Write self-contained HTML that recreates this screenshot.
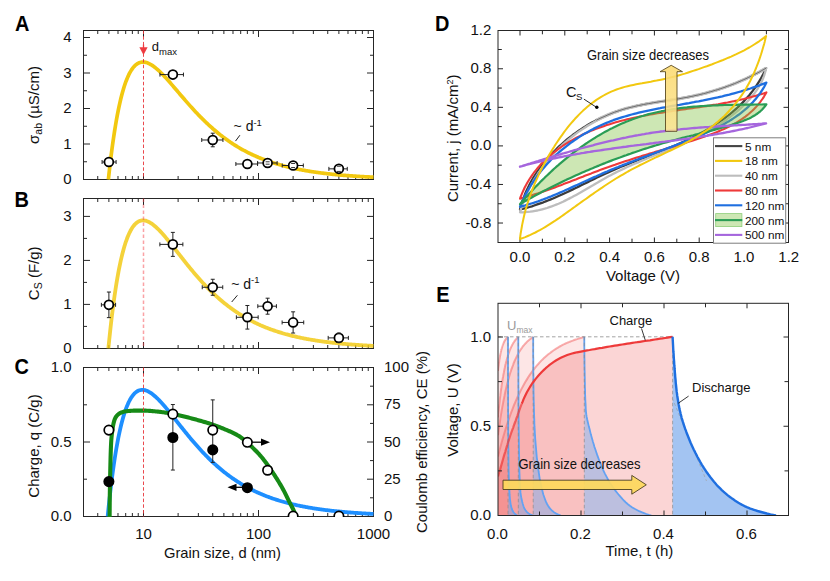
<!DOCTYPE html>
<html><head><meta charset="utf-8"><title>Figure</title>
<style>html,body{margin:0;padding:0;background:#fff}svg{display:block}</style></head>
<body><svg width="830" height="581" viewBox="0 0 830 581">
<rect width="830" height="581" fill="#fff"/>
<clipPath id="ca"><rect x="83.0" y="30.5" width="291.0" height="149.6"/></clipPath>
<rect x="83.5" y="30.5" width="290.0" height="149.0" fill="none" stroke="#262626" stroke-width="1"/>
<path d="M143.50 179.5v-6.5M143.50 30.5v6.5M258.50 179.5v-6.5M258.50 30.5v6.5" stroke="#262626" stroke-width="1" fill="none"/>
<path d="M97.74 179.5v-3.5M97.74 30.5v3.5M108.88 179.5v-3.5M108.88 30.5v3.5M117.99 179.5v-3.5M117.99 30.5v3.5M125.69 179.5v-3.5M125.69 30.5v3.5M132.36 179.5v-3.5M132.36 30.5v3.5M138.24 179.5v-3.5M138.24 30.5v3.5M178.12 179.5v-3.5M178.12 30.5v3.5M198.37 179.5v-3.5M198.37 30.5v3.5M212.74 179.5v-3.5M212.74 30.5v3.5M223.88 179.5v-3.5M223.88 30.5v3.5M232.99 179.5v-3.5M232.99 30.5v3.5M240.69 179.5v-3.5M240.69 30.5v3.5M247.36 179.5v-3.5M247.36 30.5v3.5M253.24 179.5v-3.5M253.24 30.5v3.5M293.12 179.5v-3.5M293.12 30.5v3.5M313.37 179.5v-3.5M313.37 30.5v3.5M327.74 179.5v-3.5M327.74 30.5v3.5M338.88 179.5v-3.5M338.88 30.5v3.5M347.99 179.5v-3.5M347.99 30.5v3.5M355.69 179.5v-3.5M355.69 30.5v3.5M362.36 179.5v-3.5M362.36 30.5v3.5M368.24 179.5v-3.5M368.24 30.5v3.5" stroke="#262626" stroke-width="1" fill="none"/>
<path d="M83.5 144.00h6.5M373.5 144.00h-6.5M83.5 108.50h6.5M373.5 108.50h-6.5M83.5 73.00h6.5M373.5 73.00h-6.5M83.5 37.50h6.5M373.5 37.50h-6.5" stroke="#262626" stroke-width="1" fill="none"/>
<path d="M83.5 161.75h3.5M373.5 161.75h-3.5M83.5 126.25h3.5M373.5 126.25h-3.5M83.5 90.75h3.5M373.5 90.75h-3.5M83.5 55.25h3.5M373.5 55.25h-3.5" stroke="#262626" stroke-width="1" fill="none"/>
<path d="M108.38 179.50 L109.26 171.41 L110.15 163.73 L111.03 156.47 L111.91 149.59 L112.80 143.09 L113.68 136.95 L114.57 131.15 L115.45 125.68 L116.33 120.53 L117.22 115.67 L118.10 111.11 L118.98 106.83 L119.87 102.81 L120.75 99.04 L121.64 95.52 L122.52 92.23 L123.40 89.17 L124.29 86.32 L125.17 83.67 L126.05 81.22 L126.94 78.96 L127.82 76.87 L128.71 74.95 L129.59 73.20 L130.47 71.60 L131.36 70.15 L132.24 68.85 L133.12 67.67 L134.01 66.63 L134.89 65.71 L135.78 64.91 L136.66 64.21 L137.54 63.63 L138.43 63.14 L139.31 62.75 L140.19 62.45 L141.08 62.24 L141.96 62.11 L142.85 62.06 L143.73 62.09 L144.61 62.18 L145.50 62.34 L146.38 62.57 L147.26 62.85 L148.15 63.19 L149.03 63.58 L149.92 64.03 L150.80 64.52 L151.68 65.05 L152.57 65.63 L153.45 66.25 L154.33 66.91 L155.22 67.59 L156.10 68.32 L156.99 69.07 L157.87 69.85 L158.75 70.66 L159.64 71.49 L160.52 72.35 L161.40 73.22 L162.29 74.12 L163.17 75.03 L164.05 75.96 L164.94 76.91 L165.82 77.86 L166.71 78.84 L167.59 79.82 L168.47 80.81 L169.36 81.81 L170.24 82.82 L171.12 83.84 L172.01 84.86 L172.89 85.89 L173.78 86.92 L174.66 87.95 L175.54 88.99 L176.43 90.02 L177.31 91.06 L178.19 92.10 L179.08 93.14 L179.96 94.18 L180.85 95.21 L181.73 96.25 L182.61 97.28 L183.50 98.31 L184.38 99.33 L185.26 100.35 L186.15 101.37 L187.03 102.38 L187.92 103.38 L188.80 104.38 L189.68 105.38 L190.57 106.37 L191.45 107.35 L192.33 108.32 L193.22 109.29 L194.10 110.25 L194.99 111.20 L195.87 112.15 L196.75 113.09 L197.64 114.02 L198.52 114.94 L199.40 115.85 L200.29 116.76 L201.17 117.65 L202.06 118.54 L202.94 119.42 L203.82 120.29 L204.71 121.15 L205.59 122.00 L206.47 122.85 L207.36 123.68 L208.24 124.51 L209.13 125.32 L210.01 126.13 L210.89 126.93 L211.78 127.72 L212.66 128.50 L213.54 129.27 L214.43 130.03 L215.31 130.78 L216.20 131.52 L217.08 132.25 L217.96 132.98 L218.85 133.69 L219.73 134.40 L220.61 135.10 L221.50 135.79 L222.38 136.47 L223.27 137.14 L224.15 137.80 L225.03 138.45 L225.92 139.10 L226.80 139.73 L227.68 140.36 L228.57 140.98 L229.45 141.59 L230.33 142.19 L231.22 142.78 L232.10 143.37 L232.99 143.94 L233.87 144.51 L234.75 145.07 L235.64 145.62 L236.52 146.17 L237.40 146.71 L238.29 147.23 L239.17 147.76 L240.06 148.27 L240.94 148.78 L241.82 149.27 L242.71 149.77 L243.59 150.25 L244.47 150.73 L245.36 151.20 L246.24 151.66 L247.13 152.12 L248.01 152.56 L248.89 153.01 L249.78 153.44 L250.66 153.87 L251.54 154.29 L252.43 154.71 L253.31 155.12 L254.20 155.52 L255.08 155.92 L255.96 156.31 L256.85 156.69 L257.73 157.07 L258.61 157.45 L259.50 157.81 L260.38 158.17 L261.27 158.53 L262.15 158.88 L263.03 159.22 L263.92 159.56 L264.80 159.90 L265.68 160.23 L266.57 160.55 L267.45 160.87 L268.34 161.18 L269.22 161.49 L270.10 161.79 L270.99 162.09 L271.87 162.38 L272.75 162.67 L273.64 162.96 L274.52 163.23 L275.41 163.51 L276.29 163.78 L277.17 164.05 L278.06 164.31 L278.94 164.56 L279.82 164.82 L280.71 165.07 L281.59 165.31 L282.48 165.55 L283.36 165.79 L284.24 166.02 L285.13 166.25 L286.01 166.48 L286.89 166.70 L287.78 166.92 L288.66 167.13 L289.55 167.34 L290.43 167.55 L291.31 167.76 L292.20 167.96 L293.08 168.15 L293.96 168.35 L294.85 168.54 L295.73 168.73 L296.62 168.91 L297.50 169.09 L298.38 169.27 L299.27 169.45 L300.15 169.62 L301.03 169.79 L301.92 169.95 L302.80 170.12 L303.68 170.28 L304.57 170.44 L305.45 170.59 L306.34 170.75 L307.22 170.90 L308.10 171.05 L308.99 171.19 L309.87 171.33 L310.75 171.47 L311.64 171.61 L312.52 171.75 L313.41 171.88 L314.29 172.01 L315.17 172.14 L316.06 172.27 L316.94 172.39 L317.82 172.52 L318.71 172.64 L319.59 172.76 L320.48 172.87 L321.36 172.99 L322.24 173.10 L323.13 173.21 L324.01 173.32 L324.89 173.43 L325.78 173.53 L326.66 173.64 L327.55 173.74 L328.43 173.84 L329.31 173.94 L330.20 174.03 L331.08 174.13 L331.96 174.22 L332.85 174.31 L333.73 174.40 L334.62 174.49 L335.50 174.58 L336.38 174.66 L337.27 174.75 L338.15 174.83 L339.03 174.91 L339.92 174.99 L340.80 175.07 L341.69 175.14 L342.57 175.22 L343.45 175.29 L344.34 175.37 L345.22 175.44 L346.10 175.51 L346.99 175.58 L347.87 175.65 L348.76 175.71 L349.64 175.78 L350.52 175.85 L351.41 175.91 L352.29 175.97 L353.17 176.03 L354.06 176.09 L354.94 176.15 L355.83 176.21 L356.71 176.27 L357.59 176.32 L358.48 176.38 L359.36 176.43 L360.24 176.49 L361.13 176.54 L362.01 176.59 L362.90 176.64 L363.78 176.69 L364.66 176.74 L365.55 176.79 L366.43 176.84 L367.31 176.88 L368.20 176.93 L369.08 176.97 L369.97 177.02 L370.85 177.06 L371.73 177.10 L372.62 177.15 L373.50 177.19" fill="none" stroke="#f2c80f" stroke-width="3.7" stroke-linejoin="round" clip-path="url(#ca)"/>
<path d="M143.5 30.5V179.5" stroke="#e8343a" stroke-width="0.9" stroke-dasharray="3.5 2.2" fill="none"/>
<text x="71.6" y="184" font-size="15" text-anchor="end" font-weight="normal" fill="#111" font-family="Liberation Sans, sans-serif" >0</text>
<text x="71.6" y="149" font-size="15" text-anchor="end" font-weight="normal" fill="#111" font-family="Liberation Sans, sans-serif" >1</text>
<text x="71.6" y="113" font-size="15" text-anchor="end" font-weight="normal" fill="#111" font-family="Liberation Sans, sans-serif" >2</text>
<text x="71.6" y="78" font-size="15" text-anchor="end" font-weight="normal" fill="#111" font-family="Liberation Sans, sans-serif" >3</text>
<text x="71.6" y="42" font-size="15" text-anchor="end" font-weight="normal" fill="#111" font-family="Liberation Sans, sans-serif" >4</text>
<path d="M102.08 162.00H116.08M102.08 160.00v4.0M116.08 160.00v4.0" stroke="#222" stroke-width="1" fill="none"/>
<circle cx="108.88" cy="162.00" r="4.45" fill="#fff" stroke="#000" stroke-width="1.75"/>
<path d="M159.96 74.60H183.46M159.96 72.60v4.0M183.46 72.60v4.0" stroke="#222" stroke-width="1" fill="none"/>
<circle cx="172.86" cy="74.60" r="4.45" fill="#fff" stroke="#000" stroke-width="1.75"/>
<path d="M201.74 139.99H222.94M201.74 137.99v4.0M222.94 137.99v4.0M212.74 133.19V146.79M210.74 133.19h4.0M210.74 146.79h4.0" stroke="#222" stroke-width="1" fill="none"/>
<circle cx="212.74" cy="139.99" r="4.45" fill="#fff" stroke="#000" stroke-width="1.75"/>
<path d="M235.86 163.99H257.56M235.86 161.99v4.0M257.56 161.99v4.0" stroke="#222" stroke-width="1" fill="none"/>
<circle cx="247.36" cy="163.99" r="4.45" fill="#fff" stroke="#000" stroke-width="1.75"/>
<path d="M257.61 162.99H277.11M257.61 160.99v4.0M277.11 160.99v4.0" stroke="#222" stroke-width="1" fill="none"/>
<circle cx="267.61" cy="162.99" r="4.45" fill="#fff" stroke="#000" stroke-width="1.75"/>
<path d="M282.22 165.51H303.32M282.22 163.51v4.0M303.32 163.51v4.0" stroke="#222" stroke-width="1" fill="none"/>
<circle cx="293.12" cy="165.51" r="4.45" fill="#fff" stroke="#000" stroke-width="1.75"/>
<path d="M328.88 168.85H347.28M328.88 166.85v4.0M347.28 166.85v4.0" stroke="#222" stroke-width="1" fill="none"/>
<circle cx="338.88" cy="168.85" r="4.45" fill="#fff" stroke="#000" stroke-width="1.75"/>
<path d="M265.61 161.79h4.0M265.61 164.19h4.0" stroke="#222" stroke-width="0.9" fill="none"/>
<path d="M291.12 163.51h4.0M291.12 167.51h4.0" stroke="#222" stroke-width="0.9" fill="none"/>
<path d="M336.88 166.25h4.0M336.88 171.45h4.0" stroke="#222" stroke-width="0.9" fill="none"/>
<path d="M143.5 44.4V49" stroke="#ee3b40" stroke-width="1.3"/><path d="M139.35 47.3h8.3L143.5 55z" fill="#ee3b40"/>
<text x="151.8" y="50.5" font-size="13" text-anchor="start" font-weight="normal" fill="#111" font-family="Liberation Sans, sans-serif" >d<tspan font-size="9.5" dy="4">max</tspan></text>
<text x="233.6" y="131" font-size="14" text-anchor="start" font-weight="normal" fill="#111" font-family="Liberation Sans, sans-serif" >~ d<tspan font-size="9.5" dy="-5.5">-1</tspan></text>
<path d="M235.5 141.1L239.9 135.2" stroke="#222" stroke-width="1"/>
<text transform="translate(14.9,30.6) scale(0.92,1)" font-size="21.7" font-weight="bold" fill="#000" font-family="Liberation Sans, sans-serif">A</text>
<text transform="translate(39.4,105) rotate(-90)" font-size="15" text-anchor="middle" fill="#111" font-family="Liberation Sans, sans-serif">σ<tspan font-size="10.5" dy="3">ab</tspan><tspan dy="-3"> (µS/cm)</tspan></text>
<clipPath id="cb"><rect x="83.0" y="198.5" width="291.0" height="150.6"/></clipPath>
<rect x="83.5" y="198.5" width="290.0" height="150.0" fill="none" stroke="#262626" stroke-width="1"/>
<path d="M143.50 348.5v-6.5M143.50 198.5v6.5M258.50 348.5v-6.5M258.50 198.5v6.5" stroke="#262626" stroke-width="1" fill="none"/>
<path d="M97.74 348.5v-3.5M97.74 198.5v3.5M108.88 348.5v-3.5M108.88 198.5v3.5M117.99 348.5v-3.5M117.99 198.5v3.5M125.69 348.5v-3.5M125.69 198.5v3.5M132.36 348.5v-3.5M132.36 198.5v3.5M138.24 348.5v-3.5M138.24 198.5v3.5M178.12 348.5v-3.5M178.12 198.5v3.5M198.37 348.5v-3.5M198.37 198.5v3.5M212.74 348.5v-3.5M212.74 198.5v3.5M223.88 348.5v-3.5M223.88 198.5v3.5M232.99 348.5v-3.5M232.99 198.5v3.5M240.69 348.5v-3.5M240.69 198.5v3.5M247.36 348.5v-3.5M247.36 198.5v3.5M253.24 348.5v-3.5M253.24 198.5v3.5M293.12 348.5v-3.5M293.12 198.5v3.5M313.37 348.5v-3.5M313.37 198.5v3.5M327.74 348.5v-3.5M327.74 198.5v3.5M338.88 348.5v-3.5M338.88 198.5v3.5M347.99 348.5v-3.5M347.99 198.5v3.5M355.69 348.5v-3.5M355.69 198.5v3.5M362.36 348.5v-3.5M362.36 198.5v3.5M368.24 348.5v-3.5M368.24 198.5v3.5" stroke="#262626" stroke-width="1" fill="none"/>
<path d="M83.5 304.40h6.5M373.5 304.40h-6.5M83.5 260.40h6.5M373.5 260.40h-6.5M83.5 216.40h6.5M373.5 216.40h-6.5" stroke="#262626" stroke-width="1" fill="none"/>
<path d="M83.5 326.40h3.5M373.5 326.40h-3.5M83.5 282.40h3.5M373.5 282.40h-3.5M83.5 238.40h3.5M373.5 238.40h-3.5" stroke="#262626" stroke-width="1" fill="none"/>
<path d="M108.38 348.40 L109.26 339.58 L110.15 331.22 L111.03 323.30 L111.91 315.80 L112.80 308.72 L113.68 302.02 L114.57 295.70 L115.45 289.74 L116.33 284.12 L117.22 278.83 L118.10 273.86 L118.98 269.19 L119.87 264.81 L120.75 260.71 L121.64 256.87 L122.52 253.29 L123.40 249.95 L124.29 246.84 L125.17 243.95 L126.05 241.28 L126.94 238.81 L127.82 236.54 L128.71 234.45 L129.59 232.54 L130.47 230.80 L131.36 229.22 L132.24 227.79 L133.12 226.52 L134.01 225.38 L134.89 224.38 L135.78 223.50 L136.66 222.74 L137.54 222.11 L138.43 221.58 L139.31 221.15 L140.19 220.83 L141.08 220.60 L141.96 220.46 L142.85 220.40 L143.73 220.43 L144.61 220.53 L145.50 220.70 L146.38 220.95 L147.26 221.26 L148.15 221.63 L149.03 222.06 L149.92 222.54 L150.80 223.08 L151.68 223.66 L152.57 224.29 L153.45 224.96 L154.33 225.68 L155.22 226.43 L156.10 227.22 L156.99 228.04 L157.87 228.89 L158.75 229.77 L159.64 230.68 L160.52 231.61 L161.40 232.56 L162.29 233.54 L163.17 234.53 L164.05 235.55 L164.94 236.58 L165.82 237.62 L166.71 238.68 L167.59 239.75 L168.47 240.83 L169.36 241.93 L170.24 243.03 L171.12 244.13 L172.01 245.25 L172.89 246.37 L173.78 247.49 L174.66 248.62 L175.54 249.75 L176.43 250.88 L177.31 252.01 L178.19 253.14 L179.08 254.27 L179.96 255.40 L180.85 256.53 L181.73 257.66 L182.61 258.78 L183.50 259.90 L184.38 261.02 L185.26 262.13 L186.15 263.24 L187.03 264.34 L187.92 265.44 L188.80 266.53 L189.68 267.61 L190.57 268.69 L191.45 269.76 L192.33 270.82 L193.22 271.87 L194.10 272.92 L194.99 273.96 L195.87 274.99 L196.75 276.01 L197.64 277.03 L198.52 278.03 L199.40 279.03 L200.29 280.01 L201.17 280.99 L202.06 281.96 L202.94 282.92 L203.82 283.86 L204.71 284.80 L205.59 285.73 L206.47 286.65 L207.36 287.56 L208.24 288.46 L209.13 289.35 L210.01 290.23 L210.89 291.10 L211.78 291.96 L212.66 292.81 L213.54 293.65 L214.43 294.48 L215.31 295.30 L216.20 296.11 L217.08 296.91 L217.96 297.69 L218.85 298.47 L219.73 299.24 L220.61 300.00 L221.50 300.75 L222.38 301.50 L223.27 302.23 L224.15 302.95 L225.03 303.66 L225.92 304.36 L226.80 305.05 L227.68 305.74 L228.57 306.41 L229.45 307.08 L230.33 307.73 L231.22 308.38 L232.10 309.02 L232.99 309.64 L233.87 310.26 L234.75 310.87 L235.64 311.48 L236.52 312.07 L237.40 312.66 L238.29 313.23 L239.17 313.80 L240.06 314.36 L240.94 314.91 L241.82 315.46 L242.71 315.99 L243.59 316.52 L244.47 317.04 L245.36 317.55 L246.24 318.06 L247.13 318.55 L248.01 319.04 L248.89 319.52 L249.78 320.00 L250.66 320.47 L251.54 320.93 L252.43 321.38 L253.31 321.83 L254.20 322.27 L255.08 322.70 L255.96 323.12 L256.85 323.54 L257.73 323.96 L258.61 324.36 L259.50 324.76 L260.38 325.16 L261.27 325.54 L262.15 325.93 L263.03 326.30 L263.92 326.67 L264.80 327.03 L265.68 327.39 L266.57 327.74 L267.45 328.09 L268.34 328.43 L269.22 328.77 L270.10 329.10 L270.99 329.42 L271.87 329.74 L272.75 330.06 L273.64 330.37 L274.52 330.67 L275.41 330.97 L276.29 331.27 L277.17 331.56 L278.06 331.84 L278.94 332.12 L279.82 332.40 L280.71 332.67 L281.59 332.94 L282.48 333.20 L283.36 333.46 L284.24 333.71 L285.13 333.96 L286.01 334.21 L286.89 334.45 L287.78 334.69 L288.66 334.92 L289.55 335.15 L290.43 335.38 L291.31 335.60 L292.20 335.82 L293.08 336.03 L293.96 336.24 L294.85 336.45 L295.73 336.66 L296.62 336.86 L297.50 337.06 L298.38 337.25 L299.27 337.44 L300.15 337.63 L301.03 337.81 L301.92 338.00 L302.80 338.17 L303.68 338.35 L304.57 338.52 L305.45 338.69 L306.34 338.86 L307.22 339.02 L308.10 339.18 L308.99 339.34 L309.87 339.50 L310.75 339.65 L311.64 339.80 L312.52 339.95 L313.41 340.10 L314.29 340.24 L315.17 340.38 L316.06 340.52 L316.94 340.66 L317.82 340.79 L318.71 340.92 L319.59 341.05 L320.48 341.18 L321.36 341.30 L322.24 341.43 L323.13 341.55 L324.01 341.66 L324.89 341.78 L325.78 341.90 L326.66 342.01 L327.55 342.12 L328.43 342.23 L329.31 342.33 L330.20 342.44 L331.08 342.54 L331.96 342.64 L332.85 342.74 L333.73 342.84 L334.62 342.94 L335.50 343.03 L336.38 343.13 L337.27 343.22 L338.15 343.31 L339.03 343.40 L339.92 343.48 L340.80 343.57 L341.69 343.65 L342.57 343.74 L343.45 343.82 L344.34 343.90 L345.22 343.97 L346.10 344.05 L346.99 344.13 L347.87 344.20 L348.76 344.27 L349.64 344.35 L350.52 344.42 L351.41 344.49 L352.29 344.55 L353.17 344.62 L354.06 344.69 L354.94 344.75 L355.83 344.81 L356.71 344.88 L357.59 344.94 L358.48 345.00 L359.36 345.06 L360.24 345.12 L361.13 345.17 L362.01 345.23 L362.90 345.29 L363.78 345.34 L364.66 345.39 L365.55 345.45 L366.43 345.50 L367.31 345.55 L368.20 345.60 L369.08 345.65 L369.97 345.69 L370.85 345.74 L371.73 345.79 L372.62 345.83 L373.50 345.88" fill="none" stroke="#f2c80f" stroke-width="3.8" stroke-linejoin="round" clip-path="url(#cb)" stroke-opacity="0.82"/>
<path d="M143.5 198.5V348.5" stroke="#f5464b" stroke-opacity="0.5" stroke-width="1.5" stroke-dasharray="3.6 2.4" fill="none"/>
<text x="71.6" y="353" font-size="15" text-anchor="end" font-weight="normal" fill="#111" font-family="Liberation Sans, sans-serif" >0</text>
<text x="71.6" y="309" font-size="15" text-anchor="end" font-weight="normal" fill="#111" font-family="Liberation Sans, sans-serif" >1</text>
<text x="71.6" y="265" font-size="15" text-anchor="end" font-weight="normal" fill="#111" font-family="Liberation Sans, sans-serif" >2</text>
<text x="71.6" y="221" font-size="15" text-anchor="end" font-weight="normal" fill="#111" font-family="Liberation Sans, sans-serif" >3</text>
<path d="M101.38 304.84H115.58M101.38 302.84v4.0M115.58 302.84v4.0M108.88 292.04V317.64M106.88 292.04h4.0M106.88 317.64h4.0" stroke="#222" stroke-width="1" fill="none"/>
<circle cx="108.88" cy="304.84" r="4.45" fill="#fff" stroke="#000" stroke-width="1.75"/>
<path d="M159.86 244.38H182.86M159.86 242.38v4.0M182.86 242.38v4.0M172.86 232.38V256.38M170.86 232.38h4.0M170.86 256.38h4.0" stroke="#222" stroke-width="1" fill="none"/>
<circle cx="172.86" cy="244.38" r="4.45" fill="#fff" stroke="#000" stroke-width="1.75"/>
<path d="M202.24 287.28H222.74M202.24 285.28v4.0M222.74 285.28v4.0M212.74 279.28V295.28M210.74 279.28h4.0M210.74 295.28h4.0" stroke="#222" stroke-width="1" fill="none"/>
<circle cx="212.74" cy="287.28" r="4.45" fill="#fff" stroke="#000" stroke-width="1.75"/>
<path d="M236.36 317.29H258.16M236.36 315.29v4.0M258.16 315.29v4.0M247.36 305.49V329.09M245.36 305.49h4.0M245.36 329.09h4.0" stroke="#222" stroke-width="1" fill="none"/>
<circle cx="247.36" cy="317.29" r="4.45" fill="#fff" stroke="#000" stroke-width="1.75"/>
<path d="M257.81 306.20H276.41M257.81 304.20v4.0M276.41 304.20v4.0M267.61 298.20V314.20M265.61 298.20h4.0M265.61 314.20h4.0" stroke="#222" stroke-width="1" fill="none"/>
<circle cx="267.61" cy="306.20" r="4.45" fill="#fff" stroke="#000" stroke-width="1.75"/>
<path d="M282.12 322.44H303.72M282.12 320.44v4.0M303.72 320.44v4.0M293.12 311.84V333.04M291.12 311.84h4.0M291.12 333.04h4.0" stroke="#222" stroke-width="1" fill="none"/>
<circle cx="293.12" cy="322.44" r="4.45" fill="#fff" stroke="#000" stroke-width="1.75"/>
<path d="M328.18 337.88H348.38M328.18 335.88v4.0M348.38 335.88v4.0M338.88 333.28V342.48M336.88 333.28h4.0M336.88 342.48h4.0" stroke="#222" stroke-width="1" fill="none"/>
<circle cx="338.88" cy="337.88" r="4.45" fill="#fff" stroke="#000" stroke-width="1.75"/>
<path d="M336.88 333.28h4.0M336.88 342.48h4.0" stroke="#222" stroke-width="0.9" fill="none"/>
<text x="231.2" y="288.5" font-size="14" text-anchor="start" font-weight="normal" fill="#111" font-family="Liberation Sans, sans-serif" >~ d<tspan font-size="9.5" dy="-5.5">-1</tspan></text>
<path d="M231.7 302L237.4 295.3" stroke="#222" stroke-width="1"/>
<text transform="translate(14.6,207.2) scale(0.92,1)" font-size="21.7" font-weight="bold" fill="#000" font-family="Liberation Sans, sans-serif">B</text>
<text transform="translate(39.2,273.3) rotate(-90)" font-size="15" text-anchor="middle" fill="#111" font-family="Liberation Sans, sans-serif">C<tspan font-size="10.5" dy="3">S</tspan><tspan dy="-3"> (F/g)</tspan></text>
<clipPath id="cc"><rect x="83.0" y="367.5" width="291.0" height="149.6"/></clipPath>
<rect x="83.5" y="367.5" width="290.0" height="149.0" fill="none" stroke="#262626" stroke-width="1"/>
<path d="M143.50 516.5v-6.5M143.50 367.5v6.5M258.50 516.5v-6.5M258.50 367.5v6.5" stroke="#262626" stroke-width="1" fill="none"/>
<path d="M97.74 516.5v-3.5M97.74 367.5v3.5M108.88 516.5v-3.5M108.88 367.5v3.5M117.99 516.5v-3.5M117.99 367.5v3.5M125.69 516.5v-3.5M125.69 367.5v3.5M132.36 516.5v-3.5M132.36 367.5v3.5M138.24 516.5v-3.5M138.24 367.5v3.5M178.12 516.5v-3.5M178.12 367.5v3.5M198.37 516.5v-3.5M198.37 367.5v3.5M212.74 516.5v-3.5M212.74 367.5v3.5M223.88 516.5v-3.5M223.88 367.5v3.5M232.99 516.5v-3.5M232.99 367.5v3.5M240.69 516.5v-3.5M240.69 367.5v3.5M247.36 516.5v-3.5M247.36 367.5v3.5M253.24 516.5v-3.5M253.24 367.5v3.5M293.12 516.5v-3.5M293.12 367.5v3.5M313.37 516.5v-3.5M313.37 367.5v3.5M327.74 516.5v-3.5M327.74 367.5v3.5M338.88 516.5v-3.5M338.88 367.5v3.5M347.99 516.5v-3.5M347.99 367.5v3.5M355.69 516.5v-3.5M355.69 367.5v3.5M362.36 516.5v-3.5M362.36 367.5v3.5M368.24 516.5v-3.5M368.24 367.5v3.5" stroke="#262626" stroke-width="1" fill="none"/>
<path d="M83.5 442.00h6.5" stroke="#262626" stroke-width="1" fill="none"/>
<path d="M83.5 479.20h3.5M83.5 404.80h3.5" stroke="#262626" stroke-width="1" fill="none"/>
<path d="M373.5 479.20h-6.5M373.5 442.00h-6.5M373.5 404.80h-6.5" stroke="#262626" stroke-width="1" fill="none"/>
<path d="M373.5 497.80h-3.5M373.5 460.60h-3.5M373.5 423.40h-3.5M373.5 386.20h-3.5" stroke="#262626" stroke-width="1" fill="none"/>
<path d="M107.67 516.40 L108.55 507.66 L109.44 499.37 L110.33 491.52 L111.21 484.10 L112.10 477.08 L112.98 470.45 L113.87 464.19 L114.76 458.29 L115.64 452.72 L116.53 447.49 L117.42 442.57 L118.30 437.95 L119.19 433.62 L120.07 429.56 L120.96 425.76 L121.85 422.22 L122.73 418.92 L123.62 415.85 L124.50 413.00 L125.39 410.37 L126.28 407.93 L127.16 405.69 L128.05 403.63 L128.93 401.75 L129.82 400.03 L130.71 398.47 L131.59 397.07 L132.48 395.82 L133.37 394.70 L134.25 393.71 L135.14 392.86 L136.02 392.12 L136.91 391.49 L137.80 390.98 L138.68 390.57 L139.57 390.26 L140.45 390.04 L141.34 389.91 L142.23 389.86 L143.11 389.89 L144.00 390.00 L144.88 390.18 L145.77 390.43 L146.66 390.75 L147.54 391.12 L148.43 391.55 L149.32 392.04 L150.20 392.58 L151.09 393.16 L151.97 393.79 L152.86 394.47 L153.75 395.18 L154.63 395.93 L155.52 396.71 L156.40 397.53 L157.29 398.38 L158.18 399.26 L159.06 400.16 L159.95 401.09 L160.83 402.04 L161.72 403.01 L162.61 404.00 L163.49 405.01 L164.38 406.03 L165.27 407.07 L166.15 408.12 L167.04 409.18 L167.92 410.26 L168.81 411.34 L169.70 412.43 L170.58 413.53 L171.47 414.64 L172.35 415.75 L173.24 416.86 L174.13 417.98 L175.01 419.10 L175.90 420.22 L176.78 421.34 L177.67 422.46 L178.56 423.59 L179.44 424.71 L180.33 425.83 L181.22 426.94 L182.10 428.05 L182.99 429.16 L183.87 430.27 L184.76 431.37 L185.65 432.47 L186.53 433.56 L187.42 434.64 L188.30 435.72 L189.19 436.80 L190.08 437.86 L190.96 438.92 L191.85 439.97 L192.73 441.01 L193.62 442.05 L194.51 443.08 L195.39 444.10 L196.28 445.11 L197.16 446.11 L198.05 447.10 L198.94 448.09 L199.82 449.06 L200.71 450.03 L201.60 450.98 L202.48 451.93 L203.37 452.87 L204.25 453.80 L205.14 454.72 L206.03 455.62 L206.91 456.52 L207.80 457.41 L208.68 458.29 L209.57 459.16 L210.46 460.02 L211.34 460.87 L212.23 461.71 L213.11 462.53 L214.00 463.35 L214.89 464.16 L215.77 464.96 L216.66 465.75 L217.55 466.53 L218.43 467.30 L219.32 468.06 L220.20 468.81 L221.09 469.55 L221.98 470.28 L222.86 471.00 L223.75 471.71 L224.63 472.42 L225.52 473.11 L226.41 473.79 L227.29 474.47 L228.18 475.13 L229.06 475.79 L229.95 476.43 L230.84 477.07 L231.72 477.70 L232.61 478.32 L233.50 478.93 L234.38 479.53 L235.27 480.13 L236.15 480.71 L237.04 481.29 L237.93 481.86 L238.81 482.42 L239.70 482.97 L240.58 483.51 L241.47 484.05 L242.36 484.57 L243.24 485.09 L244.13 485.61 L245.01 486.11 L245.90 486.61 L246.79 487.10 L247.67 487.58 L248.56 488.05 L249.45 488.52 L250.33 488.98 L251.22 489.44 L252.10 489.88 L252.99 490.32 L253.88 490.75 L254.76 491.18 L255.65 491.60 L256.53 492.01 L257.42 492.42 L258.31 492.82 L259.19 493.21 L260.08 493.60 L260.96 493.98 L261.85 494.36 L262.74 494.73 L263.62 495.09 L264.51 495.45 L265.40 495.80 L266.28 496.15 L267.17 496.49 L268.05 496.82 L268.94 497.15 L269.83 497.48 L270.71 497.80 L271.60 498.11 L272.48 498.42 L273.37 498.72 L274.26 499.02 L275.14 499.32 L276.03 499.61 L276.91 499.89 L277.80 500.17 L278.69 500.45 L279.57 500.72 L280.46 500.99 L281.35 501.25 L282.23 501.51 L283.12 501.76 L284.00 502.01 L284.89 502.26 L285.78 502.50 L286.66 502.74 L287.55 502.97 L288.43 503.20 L289.32 503.42 L290.21 503.65 L291.09 503.87 L291.98 504.08 L292.86 504.29 L293.75 504.50 L294.64 504.70 L295.52 504.90 L296.41 505.10 L297.29 505.30 L298.18 505.49 L299.07 505.67 L299.95 505.86 L300.84 506.04 L301.73 506.22 L302.61 506.39 L303.50 506.57 L304.38 506.74 L305.27 506.90 L306.16 507.07 L307.04 507.23 L307.93 507.39 L308.81 507.54 L309.70 507.69 L310.59 507.84 L311.47 507.99 L312.36 508.14 L313.24 508.28 L314.13 508.42 L315.02 508.56 L315.90 508.69 L316.79 508.83 L317.68 508.96 L318.56 509.09 L319.45 509.21 L320.33 509.34 L321.22 509.46 L322.11 509.58 L322.99 509.70 L323.88 509.82 L324.76 509.93 L325.65 510.04 L326.54 510.15 L327.42 510.26 L328.31 510.37 L329.19 510.47 L330.08 510.58 L330.97 510.68 L331.85 510.78 L332.74 510.87 L333.63 510.97 L334.51 511.07 L335.40 511.16 L336.28 511.25 L337.17 511.34 L338.06 511.43 L338.94 511.51 L339.83 511.60 L340.71 511.68 L341.60 511.76 L342.49 511.85 L343.37 511.92 L344.26 512.00 L345.14 512.08 L346.03 512.15 L346.92 512.23 L347.80 512.30 L348.69 512.37 L349.58 512.44 L350.46 512.51 L351.35 512.58 L352.23 512.65 L353.12 512.71 L354.01 512.78 L354.89 512.84 L355.78 512.90 L356.66 512.96 L357.55 513.02 L358.44 513.08 L359.32 513.14 L360.21 513.20 L361.09 513.25 L361.98 513.31 L362.87 513.36 L363.75 513.42 L364.64 513.47 L365.53 513.52 L366.41 513.57 L367.30 513.62 L368.18 513.67 L369.07 513.72 L369.96 513.76 L370.84 513.81 L371.73 513.85 L372.61 513.90 L373.50 513.94" fill="none" stroke="#1e8fff" stroke-width="3.8" stroke-linejoin="round" clip-path="url(#cc)"/>
<path d="M109.63 517.89 L109.63 516.78 L109.63 515.67 L109.64 514.56 L109.64 513.45 L109.65 512.34 L109.66 511.23 L109.67 510.12 L109.67 509.01 L109.68 507.90 L109.69 506.79 L109.70 505.68 L109.71 504.57 L109.72 503.46 L109.73 502.35 L109.74 501.24 L109.75 500.13 L109.76 499.02 L109.77 497.91 L109.79 496.80 L109.80 495.69 L109.81 494.58 L109.83 493.47 L109.84 492.36 L109.86 491.25 L109.88 490.14 L109.89 489.03 L109.91 487.92 L109.93 486.81 L109.95 485.70 L109.97 484.59 L109.99 483.48 L110.01 482.37 L110.03 481.26 L110.05 480.15 L110.08 479.04 L110.10 477.93 L110.12 476.82 L110.15 475.72 L110.17 474.61 L110.20 473.50 L110.22 472.39 L110.24 471.28 L110.27 470.17 L110.29 469.06 L110.32 467.95 L110.34 466.84 L110.37 465.73 L110.40 464.62 L110.42 463.51 L110.45 462.40 L110.48 461.29 L110.50 460.18 L110.53 459.07 L110.56 457.96 L110.59 456.85 L110.63 455.74 L110.66 454.63 L110.69 453.52 L110.73 452.41 L110.77 451.30 L110.81 450.19 L110.85 449.08 L110.90 447.97 L110.94 446.86 L110.99 445.76 L111.04 444.65 L111.10 443.54 L111.15 442.43 L111.22 441.33 L111.29 440.22 L111.38 439.11 L111.47 438.00 L111.58 436.89 L111.69 435.79 L111.81 434.68 L111.94 433.58 L112.07 432.47 L112.22 431.37 L112.37 430.28 L112.52 429.18 L112.68 428.08 L112.86 426.96 L113.05 425.83 L113.27 424.70 L113.50 423.58 L113.76 422.48 L114.04 421.40 L114.35 420.36 L114.70 419.36 L115.08 418.41 L115.59 417.46 L116.23 416.50 L116.98 415.56 L117.81 414.70 L118.68 413.95 L119.56 413.34 L120.46 412.89 L121.44 412.49 L122.50 412.12 L123.60 411.81 L124.73 411.54 L125.86 411.33 L126.96 411.18 L128.06 411.06 L129.16 410.95 L130.26 410.85 L131.37 410.76 L132.49 410.69 L133.60 410.64 L134.71 410.61 L135.82 410.60 L136.93 410.60 L138.04 410.60 L139.15 410.60 L140.26 410.60 L141.37 410.60 L142.48 410.60 L143.59 410.60 L144.70 410.62 L145.81 410.65 L146.92 410.69 L148.03 410.76 L149.14 410.83 L150.25 410.91 L151.35 411.01 L152.46 411.11 L153.57 411.21 L154.67 411.31 L155.78 411.42 L156.88 411.52 L157.98 411.63 L159.09 411.75 L160.19 411.88 L161.29 412.02 L162.39 412.17 L163.49 412.33 L164.59 412.49 L165.69 412.66 L166.79 412.84 L167.88 413.02 L168.98 413.20 L170.07 413.39 L171.17 413.59 L172.26 413.78 L173.34 413.98 L174.43 414.19 L175.52 414.41 L176.60 414.64 L177.69 414.88 L178.77 415.13 L179.85 415.38 L180.93 415.64 L182.01 415.91 L183.09 416.18 L184.16 416.45 L185.24 416.73 L186.32 417.01 L187.39 417.29 L188.47 417.58 L189.54 417.86 L190.61 418.14 L191.69 418.42 L192.76 418.70 L193.83 418.99 L194.90 419.28 L195.98 419.57 L197.05 419.86 L198.12 420.16 L199.19 420.46 L200.26 420.76 L201.33 421.06 L202.39 421.37 L203.46 421.68 L204.53 422.00 L205.59 422.32 L206.65 422.65 L207.71 422.97 L208.77 423.31 L209.82 423.65 L210.88 423.99 L211.93 424.34 L212.98 424.69 L214.02 425.06 L215.07 425.44 L216.11 425.82 L217.15 426.21 L218.18 426.61 L219.22 427.02 L220.25 427.43 L221.28 427.85 L222.31 428.26 L223.34 428.68 L224.36 429.10 L225.39 429.53 L226.42 429.95 L227.44 430.38 L228.47 430.81 L229.49 431.25 L230.50 431.70 L231.52 432.16 L232.52 432.63 L233.51 433.11 L234.51 433.61 L235.50 434.12 L236.48 434.65 L237.45 435.19 L238.41 435.75 L239.35 436.33 L240.27 436.94 L241.16 437.58 L242.05 438.25 L242.92 438.94 L243.78 439.65 L244.63 440.37 L245.47 441.11 L246.31 441.84 L247.13 442.58 L247.96 443.32 L248.78 444.06 L249.60 444.81 L250.42 445.57 L251.24 446.33 L252.05 447.09 L252.85 447.86 L253.66 448.64 L254.45 449.42 L255.24 450.20 L256.02 451.00 L256.80 451.80 L257.57 452.60 L258.32 453.41 L259.07 454.23 L259.81 455.05 L260.54 455.88 L261.25 456.71 L261.96 457.56 L262.66 458.41 L263.35 459.27 L264.03 460.14 L264.71 461.02 L265.38 461.90 L266.04 462.79 L266.70 463.69 L267.35 464.59 L268.00 465.50 L268.64 466.41 L269.27 467.33 L269.90 468.25 L270.53 469.17 L271.15 470.09 L271.77 471.02 L272.39 471.95 L273.00 472.88 L273.61 473.81 L274.22 474.74 L274.82 475.67 L275.43 476.60 L276.03 477.53 L276.62 478.46 L277.22 479.40 L277.81 480.34 L278.39 481.29 L278.97 482.24 L279.54 483.19 L280.11 484.15 L280.68 485.10 L281.23 486.06 L281.79 487.03 L282.33 487.99 L282.87 488.96 L283.40 489.93 L283.92 490.91 L284.43 491.90 L284.94 492.88 L285.43 493.88 L285.92 494.87 L286.41 495.87 L286.89 496.87 L287.38 497.87 L287.86 498.87 L288.35 499.87 L288.84 500.86 L289.34 501.86 L289.85 502.85 L290.35 503.83 L290.86 504.82 L291.37 505.81 L291.88 506.79 L292.38 507.78 L292.88 508.78 L293.37 509.77 L293.85 510.77 L294.33 511.77 L294.79 512.78 L295.24 513.80 L295.68 514.81 L296.11 515.84 L296.54 516.86 L296.96 517.89" fill="none" stroke="#168a16" stroke-width="4.1" stroke-linejoin="round" clip-path="url(#cc)"/>
<path d="M143.5 367.5V516.5" stroke="#e8343a" stroke-width="0.9" stroke-dasharray="3.5 2.2" fill="none"/>
<text x="71.6" y="521" font-size="15" text-anchor="end" font-weight="normal" fill="#111" font-family="Liberation Sans, sans-serif" >0.0</text>
<text x="71.6" y="447" font-size="15" text-anchor="end" font-weight="normal" fill="#111" font-family="Liberation Sans, sans-serif" >0.5</text>
<text x="71.6" y="372" font-size="15" text-anchor="end" font-weight="normal" fill="#111" font-family="Liberation Sans, sans-serif" >1.0</text>
<text x="384" y="521" font-size="15" text-anchor="start" font-weight="normal" fill="#111" font-family="Liberation Sans, sans-serif" >0</text>
<text x="384" y="484" font-size="15" text-anchor="start" font-weight="normal" fill="#111" font-family="Liberation Sans, sans-serif" >25</text>
<text x="384" y="447" font-size="15" text-anchor="start" font-weight="normal" fill="#111" font-family="Liberation Sans, sans-serif" >50</text>
<text x="384" y="409" font-size="15" text-anchor="start" font-weight="normal" fill="#111" font-family="Liberation Sans, sans-serif" >75</text>
<text x="384" y="372" font-size="15" text-anchor="start" font-weight="normal" fill="#111" font-family="Liberation Sans, sans-serif" >100</text>
<text x="143.5" y="538.5" font-size="15" text-anchor="middle" font-weight="normal" fill="#111" font-family="Liberation Sans, sans-serif" >10</text>
<text x="258.5" y="538.5" font-size="15" text-anchor="middle" font-weight="normal" fill="#111" font-family="Liberation Sans, sans-serif" >100</text>
<text x="373.5" y="538.5" font-size="15" text-anchor="middle" font-weight="normal" fill="#111" font-family="Liberation Sans, sans-serif" >1000</text>
<text x="222.5" y="557.5" font-size="15" text-anchor="middle" font-weight="normal" fill="#111" font-family="Liberation Sans, sans-serif" textLength="117" lengthAdjust="spacingAndGlyphs">Grain size, d (nm)</text>
<path d="M172.86 404.54V470.04M170.86 404.54h4.0M170.86 470.04h4.0" stroke="#222" stroke-width="1" fill="none"/>
<path d="M212.74 399.89V462.39M210.74 399.89h4.0M210.74 462.39h4.0" stroke="#222" stroke-width="1" fill="none"/>
<path d="M247.3553485040735 442.2H262" stroke="#000" stroke-width="1.3"/><path d="M261 438.6L270 442.2L261 445.8z" fill="#000"/>
<path d="M247.3553485040735 487.3H236" stroke="#000" stroke-width="1.3"/><path d="M236.5 483.7L227.5 487.3L236.5 490.9z" fill="#000"/>
<g clip-path="url(#cc)">
<circle cx="108.88" cy="481.58" r="4.7" fill="#000" stroke="#000" stroke-width="1.7"/>
<circle cx="172.86" cy="437.54" r="4.7" fill="#000" stroke="#000" stroke-width="1.7"/>
<circle cx="212.74" cy="449.89" r="4.7" fill="#000" stroke="#000" stroke-width="1.7"/>
<circle cx="247.36" cy="487.68" r="4.7" fill="#000" stroke="#000" stroke-width="1.7"/>
<circle cx="108.88" cy="430.10" r="4.7" fill="#fff" stroke="#000" stroke-width="1.7"/>
<circle cx="172.86" cy="414.17" r="4.7" fill="#fff" stroke="#000" stroke-width="1.7"/>
<circle cx="212.74" cy="430.10" r="4.7" fill="#fff" stroke="#000" stroke-width="1.7"/>
<circle cx="247.36" cy="442.30" r="4.7" fill="#fff" stroke="#000" stroke-width="1.7"/>
<circle cx="267.61" cy="470.27" r="4.7" fill="#fff" stroke="#000" stroke-width="1.7"/>
<circle cx="293.12" cy="516.10" r="4.7" fill="#fff" stroke="#000" stroke-width="1.7"/>
<circle cx="338.88" cy="516.10" r="4.7" fill="#fff" stroke="#000" stroke-width="1.7"/>
</g>
<text transform="translate(14.6,374.3) scale(0.92,1)" font-size="21.7" font-weight="bold" fill="#000" font-family="Liberation Sans, sans-serif">C</text>
<text transform="translate(39.4,446) rotate(-90)" font-size="15" text-anchor="middle" fill="#111" font-family="Liberation Sans, sans-serif">Charge, q (C/g)</text>
<text transform="translate(427,442) rotate(-90)" font-size="15" text-anchor="middle" fill="#111" font-family="Liberation Sans, sans-serif">Coulomb efficiency, CE (%)</text>
<!--D-->
<clipPath id="cd"><rect x="498" y="30.5" width="290.5" height="212.0"/></clipPath>
<rect x="498" y="30.5" width="290.5" height="212.0" fill="none" stroke="#262626" stroke-width="1"/>
<path d="M520.00 242.5v-5M520.00 30.5v5M564.80 242.5v-5M564.80 30.5v5M609.60 242.5v-5M609.60 30.5v5M654.40 242.5v-5M654.40 30.5v5M699.20 242.5v-5M699.20 30.5v5M744.00 242.5v-5M744.00 30.5v5" stroke="#262626" stroke-width="1" fill="none"/>
<path d="M542.40 242.5v-3.8M542.40 30.5v3.8M587.20 242.5v-3.8M587.20 30.5v3.8M632.00 242.5v-3.8M632.00 30.5v3.8M676.80 242.5v-3.8M676.80 30.5v3.8M721.60 242.5v-3.8M721.60 30.5v3.8M766.40 242.5v-3.8M766.40 30.5v3.8" stroke="#262626" stroke-width="1" fill="none"/>
<path d="M498 68.78h5M788.5 68.78h-5M498 107.34h5M788.5 107.34h-5M498 145.90h5M788.5 145.90h-5M498 184.46h5M788.5 184.46h-5M498 223.02h5M788.5 223.02h-5" stroke="#262626" stroke-width="1" fill="none"/>
<path d="M498 49.50h3.8M788.5 49.50h-3.8M498 88.06h3.8M788.5 88.06h-3.8M498 126.62h3.8M788.5 126.62h-3.8M498 165.18h3.8M788.5 165.18h-3.8M498 203.74h3.8M788.5 203.74h-3.8" stroke="#262626" stroke-width="1" fill="none"/>
<g clip-path="url(#cd)" fill="none" stroke-linejoin="round">
<path d="M520.0 209.5 L520.6 207.1 L521.3 204.7 L522.0 202.3 L522.8 200.0 L523.7 197.6 L524.6 195.3 L525.5 193.0 L526.5 190.7 L527.6 188.5 L528.7 186.2 L529.8 184.0 L531.0 181.8 L532.3 179.6 L533.6 177.4 L534.9 175.3 L536.3 173.2 L537.7 171.1 L539.2 169.0 L540.7 167.0 L542.2 164.9 L543.8 162.9 L545.4 161.0 L547.1 159.0 L548.7 157.1 L550.5 155.2 L552.2 153.4 L554.0 151.5 L555.8 149.7 L557.6 147.9 L559.4 146.2 L561.3 144.5 L563.2 142.8 L565.1 141.1 L567.0 139.5 L569.0 137.9 L571.0 136.4 L573.0 134.8 L575.0 133.4 L577.1 131.9 L579.1 130.5 L581.2 129.1 L583.3 127.7 L585.4 126.4 L587.6 125.1 L589.7 123.8 L591.9 122.6 L594.1 121.4 L596.3 120.2 L598.6 119.1 L600.8 118.0 L603.1 117.0 L605.4 116.0 L607.6 115.0 L610.0 114.0 L612.3 113.1 L614.6 112.2 L617.0 111.4 L619.3 110.6 L621.7 109.8 L624.1 109.1 L626.5 108.4 L628.9 107.8 L631.4 107.2 L633.8 106.6 L636.3 106.0 L638.7 105.5 L641.2 105.0 L643.6 104.5 L646.1 104.0 L648.6 103.6 L651.1 103.2 L653.6 102.7 L656.1 102.3 L658.6 101.9 L661.1 101.5 L663.6 101.2 L666.1 100.8 L668.6 100.4 L671.1 100.0 L673.6 99.6 L676.1 99.2 L678.6 98.8 L681.1 98.4 L683.6 97.9 L686.1 97.5 L688.6 97.0 L691.1 96.5 L693.5 96.0 L696.0 95.4 L698.5 94.9 L700.9 94.3 L703.4 93.7 L705.8 93.1 L708.2 92.4 L710.6 91.7 L713.0 91.0 L715.4 90.3 L717.8 89.6 L720.2 88.8 L722.6 88.0 L725.0 87.2 L727.3 86.3 L729.7 85.5 L732.0 84.6 L734.4 83.7 L736.7 82.7 L739.0 81.7 L741.3 80.7 L743.6 79.7 L745.9 78.7 L748.2 77.6 L750.5 76.5 L752.7 75.4 L755.0 74.2 L757.2 73.1 L759.5 71.9 L761.7 70.6 L763.9 69.4 L766.1 68.1 L765.1 70.4 L764.0 72.6 L762.9 74.9 L761.7 77.1 L760.5 79.2 L759.2 81.3 L757.9 83.4 L756.6 85.4 L755.2 87.5 L753.8 89.4 L752.3 91.4 L750.8 93.3 L749.3 95.2 L747.7 97.0 L746.1 98.8 L744.5 100.6 L742.8 102.4 L741.1 104.1 L739.4 105.8 L737.6 107.5 L735.8 109.1 L734.0 110.7 L732.1 112.3 L730.3 113.8 L728.4 115.3 L726.4 116.8 L724.5 118.3 L722.5 119.7 L720.5 121.1 L718.5 122.5 L716.5 123.8 L714.5 125.2 L712.4 126.5 L710.3 127.7 L708.2 129.0 L706.1 130.2 L704.0 131.4 L701.9 132.6 L699.7 133.8 L697.6 134.9 L695.4 136.0 L693.3 137.1 L691.1 138.2 L688.9 139.2 L686.7 140.2 L684.5 141.3 L682.3 142.3 L680.0 143.3 L677.8 144.2 L675.6 145.2 L673.3 146.2 L671.1 147.1 L668.8 148.0 L666.6 148.9 L664.3 149.9 L662.0 150.8 L659.7 151.7 L657.5 152.6 L655.2 153.4 L652.9 154.3 L650.6 155.2 L648.4 156.1 L646.1 157.0 L643.8 157.9 L641.5 158.7 L639.2 159.6 L636.9 160.5 L634.7 161.4 L632.4 162.3 L630.1 163.2 L627.8 164.1 L625.6 165.0 L623.3 165.9 L621.0 166.8 L618.8 167.8 L616.5 168.7 L614.3 169.7 L612.0 170.7 L609.8 171.7 L607.6 172.7 L605.3 173.7 L603.1 174.7 L600.9 175.7 L598.7 176.8 L596.5 177.8 L594.3 178.9 L592.1 180.0 L589.9 181.0 L587.7 182.1 L585.5 183.2 L583.3 184.2 L581.2 185.3 L579.0 186.4 L576.8 187.5 L574.6 188.5 L572.4 189.6 L570.2 190.6 L568.0 191.7 L565.8 192.7 L563.6 193.7 L561.4 194.8 L559.1 195.8 L556.9 196.7 L554.7 197.7 L552.4 198.7 L550.2 199.6 L547.9 200.5 L545.7 201.4 L543.4 202.3 L541.1 203.1 L538.8 203.9 L536.5 204.7 L534.2 205.5 L531.9 206.3 L529.5 207.0 L527.2 207.6 L524.8 208.3 L522.4 208.9 L520.0 209.5Z" stroke="#3c3c3c" stroke-width="2.3"/>
<path d="M520.0 212.3 L520.7 209.9 L521.5 207.5 L522.3 205.1 L523.2 202.7 L524.1 200.3 L525.0 198.0 L526.0 195.7 L527.0 193.3 L528.1 191.1 L529.2 188.8 L530.3 186.5 L531.5 184.3 L532.8 182.1 L534.0 179.9 L535.3 177.8 L536.7 175.6 L538.0 173.5 L539.5 171.4 L540.9 169.3 L542.4 167.3 L543.9 165.3 L545.5 163.3 L547.0 161.3 L548.6 159.4 L550.3 157.4 L552.0 155.5 L553.7 153.7 L555.4 151.8 L557.2 150.0 L559.0 148.2 L560.8 146.5 L562.7 144.7 L564.5 143.0 L566.5 141.3 L568.4 139.7 L570.3 138.1 L572.3 136.5 L574.3 135.0 L576.4 133.4 L578.4 131.9 L580.5 130.5 L582.6 129.1 L584.7 127.7 L586.9 126.3 L589.0 125.0 L591.2 123.7 L593.4 122.5 L595.6 121.2 L597.9 120.0 L600.1 118.9 L602.4 117.8 L604.7 116.7 L607.0 115.7 L609.3 114.7 L611.7 113.7 L614.0 112.8 L616.4 111.9 L618.7 111.0 L621.1 110.2 L623.5 109.5 L625.9 108.7 L628.4 108.0 L630.8 107.4 L633.2 106.8 L635.7 106.2 L638.1 105.6 L640.6 105.1 L643.1 104.6 L645.6 104.1 L648.0 103.7 L650.5 103.2 L653.0 102.8 L655.5 102.4 L658.0 102.0 L660.5 101.6 L663.0 101.2 L665.5 100.8 L668.1 100.4 L670.6 100.0 L673.1 99.6 L675.6 99.2 L678.1 98.8 L680.6 98.4 L683.1 98.0 L685.6 97.5 L688.1 97.0 L690.6 96.6 L693.0 96.0 L695.5 95.5 L698.0 95.0 L700.5 94.4 L702.9 93.8 L705.4 93.2 L707.8 92.5 L710.3 91.8 L712.7 91.1 L715.1 90.4 L717.5 89.7 L719.9 88.9 L722.4 88.1 L724.7 87.3 L727.1 86.4 L729.5 85.6 L731.9 84.7 L734.2 83.8 L736.6 82.8 L738.9 81.8 L741.2 80.8 L743.6 79.8 L745.9 78.8 L748.2 77.7 L750.4 76.6 L752.7 75.5 L755.0 74.3 L757.2 73.1 L759.5 71.9 L761.7 70.7 L763.9 69.4 L766.1 68.1 L765.6 70.6 L764.9 73.0 L764.2 75.4 L763.3 77.8 L762.4 80.0 L761.3 82.2 L760.2 84.4 L759.0 86.5 L757.7 88.6 L756.4 90.6 L754.9 92.6 L753.5 94.6 L751.9 96.5 L750.4 98.4 L748.7 100.2 L747.0 102.0 L745.3 103.8 L743.6 105.5 L741.8 107.2 L740.0 108.9 L738.1 110.5 L736.2 112.1 L734.3 113.7 L732.4 115.2 L730.4 116.7 L728.4 118.2 L726.4 119.7 L724.4 121.1 L722.3 122.5 L720.2 123.9 L718.1 125.2 L716.0 126.6 L713.8 127.9 L711.7 129.1 L709.5 130.4 L707.3 131.6 L705.2 132.8 L703.0 133.9 L700.8 135.1 L698.6 136.2 L696.3 137.3 L694.1 138.4 L691.9 139.5 L689.6 140.5 L687.4 141.6 L685.2 142.6 L682.9 143.6 L680.6 144.6 L678.4 145.6 L676.1 146.5 L673.9 147.5 L671.6 148.5 L669.3 149.4 L667.0 150.4 L664.8 151.3 L662.5 152.2 L660.2 153.2 L657.9 154.1 L655.6 155.0 L653.4 155.9 L651.1 156.9 L648.8 157.8 L646.5 158.7 L644.3 159.7 L642.0 160.6 L639.7 161.6 L637.5 162.6 L635.2 163.5 L632.9 164.5 L630.7 165.5 L628.4 166.5 L626.2 167.5 L624.0 168.6 L621.7 169.6 L619.5 170.7 L617.3 171.8 L615.1 172.9 L612.9 174.0 L610.7 175.2 L608.5 176.3 L606.3 177.5 L604.2 178.8 L602.0 180.0 L599.8 181.2 L597.7 182.5 L595.5 183.7 L593.4 185.0 L591.2 186.2 L589.1 187.5 L586.9 188.8 L584.8 190.0 L582.6 191.3 L580.5 192.5 L578.3 193.7 L576.2 194.9 L574.0 196.1 L571.8 197.3 L569.6 198.4 L567.4 199.5 L565.2 200.6 L563.0 201.7 L560.8 202.7 L558.5 203.7 L556.2 204.6 L554.0 205.5 L551.7 206.4 L549.4 207.2 L547.0 208.0 L544.7 208.7 L542.3 209.3 L540.0 209.9 L537.5 210.5 L535.1 210.9 L532.7 211.3 L530.2 211.7 L527.7 211.9 L525.1 212.1 L522.6 212.3 L520.0 212.3Z" stroke="#bdbdbd" stroke-width="2.3"/>
<path d="M596.3 120.2 L598.6 119.1 L600.8 118.0 L603.1 117.0 L605.4 116.0 L607.6 115.0 L610.0 114.0 L612.3 113.1 L614.6 112.2 L617.0 111.4 L619.3 110.6 L621.7 109.8 L624.1 109.1 L626.5 108.4 L628.9 107.8 L631.4 107.2 L633.8 106.6 L636.3 106.0 L638.7 105.5 L641.2 105.0 L643.6 104.5 L646.1 104.0 L648.6 103.6 L651.1 103.2 L653.6 102.7 L656.1 102.3 L658.6 101.9 L661.1 101.5 L663.6 101.2 L666.1 100.8 L668.6 100.4 L671.1 100.0 L673.6 99.6 L676.1 99.2 L678.6 98.8 L681.1 98.4 L683.6 97.9 L686.1 97.5 L688.6 97.0 L691.1 96.5 L693.5 96.0 L696.0 95.4 L698.5 94.9 L700.9 94.3 L703.4 93.7 L705.8 93.1 L708.2 92.4 L710.6 91.7 L713.0 91.0 L715.4 90.3 L717.8 89.6 L720.2 88.8 L722.6 88.0 L725.0 87.2 L727.3 86.3 L729.7 85.5 L732.0 84.6 L734.4 83.7 L736.7 82.7 L739.0 81.7 L741.3 80.7 L743.6 79.7 L745.9 78.7 L748.2 77.6 L750.5 76.5 L752.7 75.4 L755.0 74.2 L757.2 73.1 L759.5 71.9 L761.7 70.6 L763.9 69.4 L766.1 68.1" stroke="#c2c2c2" stroke-width="3.2"/>
<path d="M596.3 120.2 L598.6 119.1 L600.8 118.0 L603.1 117.0 L605.4 116.0 L607.6 115.0 L610.0 114.0 L612.3 113.1 L614.6 112.2 L617.0 111.4 L619.3 110.6 L621.7 109.8 L624.1 109.1 L626.5 108.4 L628.9 107.8 L631.4 107.2 L633.8 106.6 L636.3 106.0 L638.7 105.5 L641.2 105.0 L643.6 104.5 L646.1 104.0 L648.6 103.6 L651.1 103.2 L653.6 102.7 L656.1 102.3 L658.6 101.9 L661.1 101.5 L663.6 101.2 L666.1 100.8 L668.6 100.4 L671.1 100.0 L673.6 99.6 L676.1 99.2 L678.6 98.8 L681.1 98.4 L683.6 97.9 L686.1 97.5 L688.6 97.0 L691.1 96.5 L693.5 96.0 L696.0 95.4 L698.5 94.9 L700.9 94.3 L703.4 93.7 L705.8 93.1 L708.2 92.4 L710.6 91.7 L713.0 91.0 L715.4 90.3 L717.8 89.6 L720.2 88.8 L722.6 88.0 L725.0 87.2 L727.3 86.3 L729.7 85.5 L732.0 84.6 L734.4 83.7 L736.7 82.7 L739.0 81.7 L741.3 80.7 L743.6 79.7 L745.9 78.7 L748.2 77.6 L750.5 76.5 L752.7 75.4 L755.0 74.2 L757.2 73.1 L759.5 71.9 L761.7 70.6 L763.9 69.4 L766.1 68.1" stroke="#555" stroke-width="0.9" stroke-opacity="0.9"/>
<path d="M520.0 198.7 L520.8 196.4 L521.8 194.1 L522.7 191.9 L523.7 189.7 L524.7 187.5 L525.8 185.4 L527.0 183.3 L528.2 181.3 L529.4 179.3 L530.7 177.3 L532.0 175.4 L533.3 173.5 L534.7 171.6 L536.2 169.8 L537.7 168.0 L539.2 166.3 L540.7 164.5 L542.3 162.8 L543.9 161.2 L545.6 159.6 L547.3 158.0 L549.0 156.4 L550.8 154.9 L552.5 153.4 L554.4 152.0 L556.2 150.6 L558.1 149.2 L560.0 147.8 L561.9 146.5 L563.8 145.2 L565.8 143.9 L567.8 142.7 L569.8 141.5 L571.9 140.3 L573.9 139.1 L576.0 138.0 L578.1 136.9 L580.2 135.9 L582.3 134.8 L584.5 133.8 L586.7 132.8 L588.8 131.9 L591.0 130.9 L593.2 130.0 L595.5 129.1 L597.7 128.3 L599.9 127.5 L602.2 126.7 L604.4 125.9 L606.7 125.1 L608.9 124.4 L611.2 123.7 L613.5 123.0 L615.8 122.3 L618.0 121.7 L620.3 121.1 L622.6 120.5 L624.9 119.9 L627.2 119.3 L629.5 118.8 L631.8 118.2 L634.1 117.7 L636.4 117.2 L638.8 116.7 L641.1 116.3 L643.4 115.8 L645.7 115.4 L648.1 114.9 L650.4 114.5 L652.7 114.1 L655.0 113.7 L657.4 113.3 L659.7 113.0 L662.0 112.6 L664.4 112.2 L666.7 111.9 L669.1 111.5 L671.4 111.2 L673.8 110.8 L676.1 110.5 L678.4 110.1 L680.8 109.8 L683.1 109.5 L685.5 109.1 L687.8 108.8 L690.2 108.5 L692.5 108.1 L694.8 107.8 L697.2 107.5 L699.5 107.1 L701.9 106.8 L704.2 106.4 L706.5 106.1 L708.9 105.7 L711.2 105.3 L713.5 104.9 L715.9 104.6 L718.2 104.2 L720.5 103.7 L722.9 103.3 L725.2 102.9 L727.5 102.5 L729.8 102.0 L732.1 101.5 L734.4 101.1 L736.8 100.6 L739.1 100.0 L741.4 99.5 L743.7 99.0 L745.9 98.4 L748.2 97.8 L750.5 97.2 L752.8 96.6 L755.1 95.9 L757.4 95.3 L759.6 94.6 L761.9 93.9 L764.1 93.2 L766.4 92.4 L765.2 94.5 L764.0 96.6 L762.7 98.6 L761.3 100.5 L760.0 102.4 L758.5 104.2 L757.0 105.9 L755.5 107.6 L753.9 109.2 L752.3 110.8 L750.6 112.3 L748.9 113.8 L747.2 115.2 L745.4 116.6 L743.6 117.9 L741.8 119.2 L739.9 120.4 L738.0 121.6 L736.1 122.8 L734.1 123.9 L732.2 125.0 L730.1 126.0 L728.1 127.1 L726.1 128.0 L724.0 129.0 L721.9 129.9 L719.8 130.8 L717.7 131.7 L715.5 132.6 L713.4 133.4 L711.2 134.2 L709.1 135.0 L706.9 135.8 L704.7 136.5 L702.5 137.3 L700.3 138.0 L698.1 138.8 L695.9 139.5 L693.7 140.2 L691.5 140.9 L689.3 141.6 L687.1 142.3 L684.9 143.0 L682.7 143.7 L680.5 144.3 L678.3 145.0 L676.1 145.7 L673.9 146.4 L671.7 147.0 L669.5 147.7 L667.4 148.3 L665.2 149.0 L663.0 149.7 L660.8 150.3 L658.6 151.0 L656.4 151.6 L654.2 152.3 L652.0 152.9 L649.8 153.6 L647.6 154.3 L645.4 154.9 L643.2 155.6 L641.1 156.3 L638.9 156.9 L636.7 157.6 L634.5 158.3 L632.3 159.0 L630.2 159.7 L628.0 160.4 L625.8 161.1 L623.6 161.8 L621.5 162.5 L619.3 163.2 L617.1 163.9 L615.0 164.7 L612.8 165.4 L610.7 166.2 L608.5 167.0 L606.4 167.7 L604.2 168.5 L602.1 169.3 L599.9 170.1 L597.8 170.9 L595.6 171.7 L593.5 172.5 L591.3 173.4 L589.2 174.2 L587.0 175.0 L584.9 175.8 L582.8 176.7 L580.6 177.5 L578.5 178.3 L576.4 179.2 L574.2 180.0 L572.1 180.8 L569.9 181.7 L567.8 182.5 L565.6 183.3 L563.5 184.1 L561.4 185.0 L559.2 185.8 L557.1 186.6 L554.9 187.4 L552.7 188.2 L550.6 188.9 L548.4 189.7 L546.3 190.5 L544.1 191.2 L541.9 192.0 L539.8 192.7 L537.6 193.4 L535.4 194.1 L533.2 194.8 L531.0 195.5 L528.8 196.2 L526.6 196.8 L524.4 197.5 L522.2 198.1 L520.0 198.7Z" stroke="#ee3a3a" stroke-width="2.1"/>
<path d="M520.0 206.8 L520.9 204.5 L521.9 202.2 L523.0 200.0 L524.0 197.8 L525.1 195.6 L526.2 193.4 L527.4 191.2 L528.6 189.1 L529.9 187.0 L531.1 184.9 L532.5 182.9 L533.8 180.8 L535.2 178.8 L536.6 176.9 L538.0 174.9 L539.5 173.0 L541.0 171.1 L542.5 169.2 L544.1 167.4 L545.7 165.5 L547.3 163.7 L549.0 162.0 L550.6 160.2 L552.3 158.5 L554.1 156.8 L555.8 155.2 L557.6 153.5 L559.4 151.9 L561.2 150.3 L563.1 148.8 L565.0 147.3 L566.9 145.8 L568.8 144.3 L570.7 142.9 L572.7 141.5 L574.7 140.1 L576.7 138.7 L578.7 137.4 L580.7 136.1 L582.8 134.8 L584.9 133.6 L587.0 132.4 L589.1 131.2 L591.2 130.1 L593.4 128.9 L595.5 127.9 L597.7 126.8 L599.9 125.8 L602.1 124.8 L604.3 123.8 L606.5 122.9 L608.8 122.0 L611.0 121.1 L613.3 120.2 L615.6 119.4 L617.9 118.6 L620.1 117.9 L622.5 117.2 L624.8 116.5 L627.1 115.8 L629.4 115.1 L631.7 114.5 L634.1 113.9 L636.4 113.3 L638.8 112.7 L641.2 112.1 L643.5 111.6 L645.9 111.1 L648.3 110.6 L650.7 110.1 L653.1 109.6 L655.4 109.1 L657.8 108.6 L660.2 108.2 L662.6 107.7 L665.0 107.3 L667.4 106.9 L669.8 106.4 L672.3 106.0 L674.7 105.6 L677.1 105.2 L679.5 104.8 L681.9 104.3 L684.3 103.9 L686.7 103.5 L689.1 103.1 L691.5 102.6 L693.9 102.2 L696.3 101.7 L698.7 101.3 L701.0 100.8 L703.4 100.4 L705.8 99.9 L708.2 99.4 L710.6 98.9 L712.9 98.4 L715.3 97.9 L717.7 97.4 L720.0 96.8 L722.4 96.3 L724.7 95.7 L727.1 95.1 L729.4 94.6 L731.8 93.9 L734.1 93.3 L736.5 92.7 L738.8 92.0 L741.1 91.4 L743.4 90.7 L745.8 89.9 L748.1 89.2 L750.4 88.5 L752.7 87.7 L755.0 86.9 L757.3 86.1 L759.6 85.3 L761.8 84.4 L764.1 83.5 L766.4 82.6 L765.3 84.8 L764.1 87.0 L762.8 89.1 L761.5 91.1 L760.2 93.1 L758.8 95.0 L757.3 96.9 L755.9 98.7 L754.3 100.5 L752.8 102.2 L751.2 103.9 L749.5 105.5 L747.9 107.1 L746.2 108.7 L744.4 110.2 L742.6 111.6 L740.8 113.1 L739.0 114.5 L737.1 115.8 L735.2 117.1 L733.3 118.4 L731.3 119.7 L729.4 120.9 L727.4 122.1 L725.4 123.2 L723.3 124.4 L721.3 125.5 L719.2 126.6 L717.1 127.6 L715.0 128.7 L712.9 129.7 L710.7 130.7 L708.6 131.7 L706.4 132.7 L704.3 133.6 L702.1 134.6 L699.9 135.5 L697.7 136.4 L695.5 137.3 L693.3 138.2 L691.2 139.1 L689.0 140.0 L686.7 140.9 L684.5 141.7 L682.3 142.6 L680.1 143.5 L677.9 144.3 L675.7 145.2 L673.5 146.0 L671.3 146.9 L669.0 147.7 L666.8 148.5 L664.6 149.4 L662.4 150.2 L660.1 151.0 L657.9 151.8 L655.7 152.7 L653.5 153.5 L651.2 154.3 L649.0 155.1 L646.8 156.0 L644.6 156.8 L642.4 157.6 L640.1 158.4 L637.9 159.3 L635.7 160.1 L633.5 161.0 L631.3 161.8 L629.1 162.6 L626.9 163.5 L624.7 164.4 L622.5 165.2 L620.3 166.1 L618.1 167.0 L615.9 167.8 L613.7 168.7 L611.5 169.6 L609.3 170.5 L607.2 171.5 L605.0 172.4 L602.8 173.3 L600.7 174.3 L598.5 175.2 L596.4 176.2 L594.2 177.1 L592.1 178.1 L589.9 179.1 L587.8 180.1 L585.7 181.0 L583.5 182.0 L581.4 183.0 L579.3 184.0 L577.1 185.0 L575.0 185.9 L572.8 186.9 L570.7 187.9 L568.6 188.9 L566.4 189.8 L564.3 190.8 L562.1 191.7 L560.0 192.6 L557.8 193.6 L555.6 194.5 L553.5 195.4 L551.3 196.3 L549.1 197.1 L546.9 198.0 L544.7 198.8 L542.5 199.7 L540.3 200.5 L538.1 201.3 L535.9 202.0 L533.6 202.8 L531.4 203.5 L529.1 204.2 L526.9 204.9 L524.6 205.6 L522.3 206.2 L520.0 206.8Z" stroke="#1f6fe0" stroke-width="2.3"/>
<path d="M520.0 204.1 L521.5 202.3 L523.0 200.6 L524.6 198.9 L526.1 197.1 L527.7 195.4 L529.2 193.7 L530.8 191.9 L532.4 190.2 L534.0 188.5 L535.6 186.8 L537.3 185.1 L538.9 183.5 L540.5 181.8 L542.2 180.1 L543.9 178.5 L545.6 176.8 L547.3 175.2 L549.0 173.6 L550.7 172.0 L552.4 170.4 L554.1 168.8 L555.9 167.2 L557.7 165.7 L559.4 164.1 L561.2 162.6 L563.0 161.1 L564.8 159.6 L566.6 158.1 L568.5 156.6 L570.3 155.1 L572.2 153.7 L574.0 152.2 L575.9 150.8 L577.8 149.4 L579.7 148.1 L581.6 146.7 L583.5 145.3 L585.4 144.0 L587.4 142.7 L589.3 141.4 L591.3 140.1 L593.2 138.9 L595.2 137.7 L597.2 136.4 L599.2 135.3 L601.2 134.1 L603.2 132.9 L605.2 131.8 L607.3 130.7 L609.3 129.6 L611.4 128.6 L613.5 127.5 L615.6 126.5 L617.6 125.5 L619.7 124.6 L621.9 123.6 L624.0 122.7 L626.1 121.8 L628.2 121.0 L630.4 120.1 L632.6 119.3 L634.7 118.5 L636.9 117.8 L639.1 117.0 L641.3 116.3 L643.5 115.7 L645.7 115.0 L647.9 114.4 L650.2 113.8 L652.4 113.2 L654.7 112.7 L656.9 112.2 L659.2 111.7 L661.5 111.2 L663.7 110.8 L666.0 110.3 L668.3 109.9 L670.6 109.5 L672.9 109.2 L675.2 108.8 L677.6 108.5 L679.9 108.2 L682.2 107.9 L684.5 107.6 L686.9 107.4 L689.2 107.1 L691.5 106.9 L693.9 106.7 L696.2 106.5 L698.6 106.3 L700.9 106.1 L703.3 106.0 L705.6 105.8 L708.0 105.7 L710.3 105.6 L712.7 105.5 L715.0 105.4 L717.4 105.3 L719.8 105.2 L722.1 105.1 L724.5 105.0 L726.8 105.0 L729.2 104.9 L731.5 104.9 L733.9 104.8 L736.2 104.8 L738.6 104.7 L740.9 104.7 L743.2 104.7 L745.6 104.7 L747.9 104.6 L750.2 104.6 L752.6 104.6 L754.9 104.5 L757.2 104.5 L759.5 104.5 L761.8 104.5 L764.1 104.4 L766.4 104.4 L765.0 106.3 L763.5 108.1 L762.0 109.7 L760.3 111.3 L758.6 112.7 L756.8 114.0 L755.0 115.2 L753.1 116.3 L751.2 117.4 L749.2 118.4 L747.2 119.3 L745.1 120.1 L743.1 121.0 L741.0 121.7 L738.9 122.5 L736.7 123.2 L734.6 123.9 L732.5 124.6 L730.4 125.3 L728.2 126.0 L726.1 126.6 L723.9 127.2 L721.7 127.8 L719.6 128.4 L717.4 129.0 L715.2 129.6 L713.1 130.2 L710.9 130.8 L708.7 131.3 L706.5 131.9 L704.3 132.4 L702.1 133.0 L699.9 133.5 L697.7 134.1 L695.5 134.6 L693.3 135.2 L691.1 135.7 L688.9 136.3 L686.7 136.8 L684.6 137.4 L682.4 137.9 L680.2 138.5 L678.0 139.1 L675.8 139.7 L673.6 140.3 L671.4 140.9 L669.3 141.5 L667.1 142.1 L664.9 142.7 L662.7 143.3 L660.6 144.0 L658.4 144.6 L656.3 145.3 L654.1 145.9 L651.9 146.6 L649.8 147.3 L647.6 148.0 L645.5 148.6 L643.3 149.3 L641.2 150.0 L639.0 150.8 L636.9 151.5 L634.8 152.2 L632.6 152.9 L630.5 153.7 L628.4 154.4 L626.2 155.2 L624.1 155.9 L622.0 156.7 L619.9 157.5 L617.8 158.2 L615.7 159.0 L613.5 159.8 L611.4 160.6 L609.3 161.4 L607.2 162.2 L605.1 163.1 L603.0 163.9 L600.9 164.7 L598.9 165.6 L596.8 166.4 L594.7 167.3 L592.6 168.2 L590.5 169.0 L588.5 169.9 L586.4 170.8 L584.3 171.7 L582.3 172.6 L580.2 173.5 L578.1 174.4 L576.1 175.3 L574.0 176.3 L572.0 177.2 L569.9 178.2 L567.9 179.1 L565.9 180.1 L563.8 181.0 L561.8 182.0 L559.8 183.0 L557.8 184.0 L555.7 185.0 L553.7 186.0 L551.7 187.0 L549.7 188.0 L547.7 189.0 L545.7 190.1 L543.7 191.1 L541.7 192.1 L539.7 193.2 L537.7 194.2 L535.7 195.3 L533.8 196.4 L531.8 197.5 L529.8 198.6 L527.8 199.6 L525.9 200.8 L523.9 201.9 L522.0 203.0 L520.0 204.1Z" stroke="#2a9d55" stroke-width="2.2" fill="#82c344" fill-opacity="0.4"/>
<path d="M520.0 166.7 L522.0 166.1 L524.0 165.4 L526.0 164.8 L528.0 164.2 L530.0 163.6 L532.1 162.9 L534.1 162.3 L536.1 161.7 L538.1 161.1 L540.1 160.4 L542.1 159.8 L544.1 159.2 L546.2 158.6 L548.2 158.0 L550.2 157.4 L552.2 156.8 L554.2 156.1 L556.3 155.5 L558.3 154.9 L560.3 154.3 L562.3 153.7 L564.4 153.2 L566.4 152.6 L568.4 152.0 L570.5 151.4 L572.5 150.8 L574.5 150.2 L576.6 149.7 L578.6 149.1 L580.6 148.5 L582.7 148.0 L584.7 147.4 L586.7 146.9 L588.8 146.3 L590.8 145.8 L592.9 145.3 L594.9 144.7 L597.0 144.2 L599.0 143.7 L601.1 143.2 L603.1 142.7 L605.2 142.2 L607.2 141.7 L609.3 141.2 L611.3 140.7 L613.4 140.3 L615.4 139.8 L617.5 139.3 L619.6 138.9 L621.6 138.4 L623.7 138.0 L625.7 137.6 L627.8 137.1 L629.9 136.7 L631.9 136.3 L634.0 135.9 L636.1 135.5 L638.1 135.2 L640.2 134.8 L642.3 134.4 L644.4 134.1 L646.4 133.7 L648.5 133.4 L650.6 133.0 L652.7 132.7 L654.8 132.4 L656.8 132.1 L658.9 131.8 L661.0 131.5 L663.1 131.3 L665.2 131.0 L667.3 130.7 L669.4 130.5 L671.4 130.2 L673.5 130.0 L675.6 129.8 L677.7 129.6 L679.8 129.4 L681.9 129.1 L684.0 128.9 L686.1 128.8 L688.2 128.6 L690.3 128.4 L692.4 128.2 L694.5 128.0 L696.6 127.9 L698.7 127.7 L700.8 127.5 L702.9 127.4 L705.0 127.2 L707.1 127.1 L709.2 127.0 L711.3 126.8 L713.4 126.7 L715.5 126.5 L717.7 126.4 L719.8 126.3 L721.9 126.1 L724.0 126.0 L726.1 125.9 L728.2 125.8 L730.3 125.6 L732.4 125.5 L734.5 125.4 L736.6 125.3 L738.7 125.1 L740.8 125.0 L742.9 124.9 L745.0 124.8 L747.2 124.6 L749.3 124.5 L751.4 124.4 L753.5 124.2 L755.6 124.1 L757.7 124.0 L759.8 123.8 L761.9 123.7 L764.0 123.5 L766.1 123.4 L764.1 123.9 L762.0 124.5 L760.0 125.0 L758.0 125.5 L755.9 126.0 L753.9 126.5 L751.8 127.0 L749.8 127.5 L747.7 128.0 L745.7 128.4 L743.6 128.9 L741.6 129.3 L739.5 129.7 L737.5 130.2 L735.4 130.6 L733.4 131.0 L731.3 131.4 L729.2 131.8 L727.2 132.2 L725.1 132.6 L723.1 133.0 L721.0 133.3 L718.9 133.7 L716.9 134.1 L714.8 134.4 L712.7 134.8 L710.6 135.1 L708.6 135.4 L706.5 135.8 L704.4 136.1 L702.4 136.4 L700.3 136.8 L698.2 137.1 L696.1 137.4 L694.0 137.7 L692.0 138.0 L689.9 138.3 L687.8 138.6 L685.7 138.9 L683.6 139.2 L681.6 139.5 L679.5 139.7 L677.4 140.0 L675.3 140.3 L673.2 140.6 L671.2 140.8 L669.1 141.1 L667.0 141.4 L664.9 141.7 L662.8 141.9 L660.7 142.2 L658.6 142.5 L656.6 142.7 L654.5 143.0 L652.4 143.3 L650.3 143.5 L648.2 143.8 L646.1 144.1 L644.0 144.3 L642.0 144.6 L639.9 144.9 L637.8 145.1 L635.7 145.4 L633.6 145.7 L631.5 145.9 L629.4 146.2 L627.4 146.5 L625.3 146.8 L623.2 147.0 L621.1 147.3 L619.0 147.6 L616.9 147.9 L614.9 148.2 L612.8 148.5 L610.7 148.8 L608.6 149.1 L606.5 149.4 L604.5 149.7 L602.4 150.0 L600.3 150.3 L598.2 150.6 L596.1 150.9 L594.1 151.2 L592.0 151.5 L589.9 151.9 L587.8 152.2 L585.8 152.5 L583.7 152.9 L581.6 153.2 L579.5 153.6 L577.5 153.9 L575.4 154.3 L573.3 154.7 L571.3 155.0 L569.2 155.4 L567.1 155.8 L565.1 156.2 L563.0 156.6 L561.0 157.0 L558.9 157.4 L556.8 157.8 L554.8 158.3 L552.7 158.7 L550.7 159.1 L548.6 159.6 L546.6 160.0 L544.5 160.5 L542.5 161.0 L540.4 161.4 L538.4 161.9 L536.3 162.4 L534.3 162.9 L532.2 163.4 L530.2 164.0 L528.1 164.5 L526.1 165.0 L524.1 165.6 L522.0 166.1 L520.0 166.7Z" stroke="#a566dd" stroke-width="2.3"/>
<path d="M520.0 239.0 L520.3 236.1 L520.7 233.2 L521.2 230.4 L521.7 227.5 L522.2 224.6 L522.8 221.8 L523.4 219.0 L524.0 216.2 L524.7 213.3 L525.4 210.5 L526.2 207.8 L527.0 205.0 L527.9 202.2 L528.8 199.5 L529.7 196.7 L530.7 194.0 L531.7 191.3 L532.7 188.6 L533.8 185.9 L534.9 183.2 L536.1 180.5 L537.3 177.9 L538.5 175.2 L539.7 172.6 L541.0 170.0 L542.3 167.4 L543.7 164.8 L545.0 162.2 L546.5 159.6 L547.9 157.1 L549.4 154.5 L550.9 152.0 L552.4 149.5 L554.0 147.0 L555.5 144.5 L557.2 142.0 L558.8 139.6 L560.5 137.2 L562.2 134.8 L563.9 132.4 L565.7 130.0 L567.5 127.7 L569.3 125.4 L571.2 123.2 L573.1 121.0 L575.0 118.8 L577.0 116.7 L579.0 114.6 L581.0 112.6 L583.1 110.6 L585.2 108.7 L587.4 106.8 L589.6 105.0 L591.8 103.3 L594.1 101.6 L596.4 99.9 L598.8 98.4 L601.2 96.9 L603.6 95.5 L606.1 94.1 L608.6 92.9 L611.2 91.7 L613.8 90.6 L616.5 89.5 L619.2 88.6 L622.0 87.7 L624.8 86.9 L627.6 86.2 L630.4 85.5 L633.3 84.9 L636.2 84.3 L639.1 83.8 L642.0 83.3 L645.0 82.7 L647.9 82.2 L650.8 81.7 L653.7 81.1 L656.6 80.6 L659.5 80.0 L662.3 79.4 L665.2 78.8 L668.0 78.1 L670.9 77.4 L673.7 76.7 L676.5 76.0 L679.3 75.2 L682.1 74.4 L684.8 73.6 L687.6 72.7 L690.4 71.8 L693.1 70.9 L695.9 70.0 L698.6 69.1 L701.3 68.1 L704.0 67.1 L706.8 66.2 L709.5 65.2 L712.2 64.2 L714.9 63.1 L717.6 62.1 L720.4 61.0 L723.1 60.0 L725.7 58.9 L728.4 57.7 L731.1 56.6 L733.7 55.4 L736.4 54.2 L739.0 52.9 L741.6 51.6 L744.2 50.3 L746.7 48.9 L749.3 47.5 L751.8 46.0 L754.2 44.5 L756.7 42.9 L759.1 41.3 L761.5 39.6 L763.8 37.9 L766.1 36.1 L765.4 38.8 L764.8 41.4 L764.1 44.1 L763.3 46.8 L762.5 49.5 L761.7 52.2 L760.9 54.8 L760.0 57.5 L759.1 60.1 L758.1 62.8 L757.1 65.4 L756.1 68.0 L755.0 70.6 L753.9 73.2 L752.7 75.7 L751.5 78.2 L750.3 80.7 L749.0 83.2 L747.7 85.6 L746.3 88.1 L744.8 90.4 L743.4 92.8 L741.8 95.1 L740.2 97.3 L738.6 99.6 L736.9 101.8 L735.2 103.9 L733.5 106.1 L731.7 108.1 L729.8 110.2 L727.9 112.2 L726.0 114.2 L724.1 116.1 L722.1 118.0 L720.0 119.8 L717.9 121.7 L715.8 123.4 L713.7 125.2 L711.5 126.8 L709.3 128.5 L707.0 130.1 L704.7 131.7 L702.4 133.2 L700.1 134.7 L697.7 136.1 L695.3 137.6 L692.9 139.0 L690.5 140.3 L688.0 141.7 L685.5 143.0 L683.1 144.3 L680.6 145.6 L678.1 146.8 L675.5 148.1 L673.0 149.3 L670.5 150.5 L668.0 151.7 L665.4 152.9 L662.9 154.1 L660.4 155.3 L657.8 156.5 L655.3 157.7 L652.8 158.9 L650.2 160.1 L647.7 161.3 L645.2 162.6 L642.7 163.8 L640.2 165.0 L637.8 166.3 L635.3 167.6 L632.8 168.9 L630.4 170.2 L628.0 171.5 L625.6 172.9 L623.2 174.3 L620.8 175.7 L618.4 177.1 L616.0 178.5 L613.7 180.0 L611.3 181.5 L609.0 183.0 L606.7 184.5 L604.4 186.0 L602.1 187.6 L599.8 189.1 L597.5 190.7 L595.2 192.3 L593.0 193.9 L590.7 195.4 L588.4 197.1 L586.2 198.7 L583.9 200.3 L581.6 201.9 L579.4 203.5 L577.1 205.1 L574.9 206.8 L572.6 208.4 L570.4 210.0 L568.1 211.6 L565.8 213.3 L563.6 214.9 L561.3 216.5 L559.0 218.1 L556.7 219.6 L554.4 221.2 L552.1 222.7 L549.8 224.2 L547.4 225.7 L545.1 227.1 L542.7 228.5 L540.3 229.9 L537.8 231.2 L535.4 232.5 L532.9 233.7 L530.4 234.9 L527.8 236.0 L525.3 237.1 L522.6 238.1 L520.0 239.0Z" stroke="#f2c80f" stroke-width="2.0"/>
</g>
<defs><linearGradient id="ga" x1="0" y1="1" x2="0" y2="0"><stop offset="0" stop-color="#fde594"/><stop offset="1" stop-color="#fbd96e"/></linearGradient><linearGradient id="gb" x1="0" y1="0" x2="1" y2="0"><stop offset="0" stop-color="#fbe08a"/><stop offset="1" stop-color="#f8cf55"/></linearGradient></defs>
<path d="M665.5 131.3V71.7H660L671.2 65.3L682.5 71.7H677V131.3Z" fill="url(#ga)" fill-opacity="0.88" stroke="#5a4a20" stroke-width="0.9" stroke-linejoin="miter"/>
<text x="587" y="59.5" font-size="15" text-anchor="start" font-weight="normal" fill="#111" font-family="Liberation Sans, sans-serif" textLength="122" lengthAdjust="spacingAndGlyphs">Grain size decreases</text>
<text x="566" y="96.5" font-size="14.5" text-anchor="start" font-weight="normal" fill="#111" font-family="Liberation Sans, sans-serif" >C<tspan font-size="9.5" dy="3.5" dx="-0.6">S</tspan></text>
<path d="M583.9 99.1L596 107" stroke="#111" stroke-width="0.9"/><circle cx="596.8" cy="107.3" r="1.7" fill="#000"/>
<rect x="713.5" y="137.8" width="72.2" height="105.4" fill="#fff" stroke="#7d7d7d" stroke-width="1"/>
<path d="M715 146.1H742.3" stroke="#444" stroke-width="2.1"/>
<text x="745" y="150.5" font-size="11.8" text-anchor="start" font-weight="normal" fill="#111" font-family="Liberation Sans, sans-serif" >5 nm</text>
<path d="M715 160.9H742.3" stroke="#f2c80f" stroke-width="2.1"/>
<text x="745" y="165.3" font-size="11.8" text-anchor="start" font-weight="normal" fill="#111" font-family="Liberation Sans, sans-serif" >18 nm</text>
<path d="M715 175.7H742.3" stroke="#bdbdbd" stroke-width="2.1"/>
<text x="745" y="180.1" font-size="11.8" text-anchor="start" font-weight="normal" fill="#111" font-family="Liberation Sans, sans-serif" >40 nm</text>
<path d="M715 190.5H742.3" stroke="#ee3a3a" stroke-width="2.1"/>
<text x="745" y="194.9" font-size="11.8" text-anchor="start" font-weight="normal" fill="#111" font-family="Liberation Sans, sans-serif" >80 nm</text>
<path d="M715 205.3H742.3" stroke="#1f6fe0" stroke-width="2.1"/>
<text x="745" y="209.70000000000002" font-size="11.8" text-anchor="start" font-weight="normal" fill="#111" font-family="Liberation Sans, sans-serif" >120 nm</text>
<rect x="715.7" y="213.6" width="26.2" height="13" fill="#82c344" fill-opacity="0.4" stroke="#8fcf7a" stroke-width="0.8"/>
<path d="M715 220.1H742.3" stroke="#2a9d55" stroke-width="2.1"/>
<text x="745" y="224.5" font-size="11.8" text-anchor="start" font-weight="normal" fill="#111" font-family="Liberation Sans, sans-serif" >200 nm</text>
<path d="M715 234.9H742.3" stroke="#a566dd" stroke-width="2.1"/>
<text x="745" y="239.3" font-size="11.8" text-anchor="start" font-weight="normal" fill="#111" font-family="Liberation Sans, sans-serif" >500 nm</text>
<text x="491.3" y="35" font-size="15" text-anchor="end" font-weight="normal" fill="#111" font-family="Liberation Sans, sans-serif" >1.2</text>
<text x="491.3" y="73" font-size="15" text-anchor="end" font-weight="normal" fill="#111" font-family="Liberation Sans, sans-serif" >0.8</text>
<text x="491.3" y="112" font-size="15" text-anchor="end" font-weight="normal" fill="#111" font-family="Liberation Sans, sans-serif" >0.4</text>
<text x="491.3" y="150" font-size="15" text-anchor="end" font-weight="normal" fill="#111" font-family="Liberation Sans, sans-serif" >0.0</text>
<text x="491.3" y="189" font-size="15" text-anchor="end" font-weight="normal" fill="#111" font-family="Liberation Sans, sans-serif" >-0.4</text>
<text x="491.3" y="228" font-size="15" text-anchor="end" font-weight="normal" fill="#111" font-family="Liberation Sans, sans-serif" >-0.8</text>
<text x="520" y="262" font-size="15" text-anchor="middle" font-weight="normal" fill="#111" font-family="Liberation Sans, sans-serif" >0.0</text>
<text x="564.8" y="262" font-size="15" text-anchor="middle" font-weight="normal" fill="#111" font-family="Liberation Sans, sans-serif" >0.2</text>
<text x="609.6" y="262" font-size="15" text-anchor="middle" font-weight="normal" fill="#111" font-family="Liberation Sans, sans-serif" >0.4</text>
<text x="654.4" y="262" font-size="15" text-anchor="middle" font-weight="normal" fill="#111" font-family="Liberation Sans, sans-serif" >0.6</text>
<text x="699.2" y="262" font-size="15" text-anchor="middle" font-weight="normal" fill="#111" font-family="Liberation Sans, sans-serif" >0.8</text>
<text x="744.0" y="262" font-size="15" text-anchor="middle" font-weight="normal" fill="#111" font-family="Liberation Sans, sans-serif" >1.0</text>
<text x="788.8" y="262" font-size="15" text-anchor="middle" font-weight="normal" fill="#111" font-family="Liberation Sans, sans-serif" >1.2</text>
<text x="643" y="281" font-size="15" text-anchor="middle" font-weight="normal" fill="#111" font-family="Liberation Sans, sans-serif" >Voltage (V)</text>
<text transform="translate(435.1,30.7) scale(0.92,1)" font-size="21.7" font-weight="bold" fill="#000" font-family="Liberation Sans, sans-serif">D</text>
<text transform="translate(458.3,138.3) rotate(-90)" font-size="15" text-anchor="middle" fill="#111" font-family="Liberation Sans, sans-serif">Current, j (mA/cm<tspan font-size="9" dy="-5">2</tspan><tspan dy="5">)</tspan></text>
<!--E-->
<clipPath id="ce"><rect x="498" y="303.3" width="290.5" height="212.2"/></clipPath>
<g clip-path="url(#ce)">
<path d="M498.0 456.6 L499.4 450.8 L500.9 445.3 L502.3 440.1 L503.8 435.0 L505.2 430.2 L506.6 425.7 L508.1 421.3 L509.5 417.1 L510.9 413.1 L512.4 409.3 L513.8 405.7 L515.3 402.2 L516.7 398.9 L518.1 395.8 L519.6 392.8 L521.0 389.9 L522.5 387.1 L523.9 384.5 L525.3 382.0 L526.8 379.6 L528.2 377.3 L529.6 375.1 L531.1 373.0 L532.5 371.1 L534.0 369.2 L535.4 367.3 L536.8 365.6 L538.3 364.0 L539.7 362.4 L541.1 360.9 L542.6 359.4 L544.0 358.1 L545.5 356.7 L546.9 355.5 L548.3 354.3 L549.8 353.2 L551.2 352.1 L552.7 351.0 L554.1 350.0 L555.5 349.1 L557.0 348.2 L558.4 347.3 L559.8 346.5 L561.3 345.7 L562.7 344.9 L564.2 344.2 L565.6 343.5 L567.0 342.9 L568.5 342.3 L569.9 341.7 L571.4 341.1 L572.8 340.6 L574.2 340.0 L575.7 339.5 L577.1 339.1 L578.5 338.6 L580.0 338.2 L581.4 337.8 L582.9 337.4 L584.3 337.0 L584.3 515.5 L498 515.5Z" fill="#ee3a3a" fill-opacity="0.125"/>
<path d="M498.0 435.2 L498.6 430.8 L499.2 426.6 L499.8 422.6 L500.3 418.8 L500.9 415.1 L501.5 411.5 L502.1 408.1 L502.7 404.9 L503.3 401.7 L503.9 398.7 L504.5 395.9 L505.0 393.1 L505.6 390.4 L506.2 387.9 L506.8 385.5 L507.4 383.1 L508.0 380.9 L508.6 378.7 L509.1 376.7 L509.7 374.7 L510.3 372.8 L510.9 371.0 L511.5 369.2 L512.1 367.6 L512.7 366.0 L513.3 364.4 L513.8 362.9 L514.4 361.5 L515.0 360.2 L515.6 358.9 L516.2 357.6 L516.8 356.4 L517.4 355.3 L517.9 354.2 L518.5 353.1 L519.1 352.1 L519.7 351.1 L520.3 350.2 L520.9 349.3 L521.5 348.4 L522.1 347.6 L522.6 346.8 L523.2 346.0 L523.8 345.3 L524.4 344.6 L525.0 344.0 L525.6 343.3 L526.2 342.7 L526.7 342.1 L527.3 341.5 L527.9 341.0 L528.5 340.5 L529.1 340.0 L529.7 339.5 L530.3 339.0 L530.9 338.6 L531.4 338.2 L532.0 337.8 L532.6 337.4 L533.2 337.0 L533.2 515.5 L498 515.5Z" fill="#ee3a3a" fill-opacity="0.125"/>
<path d="M498.0 417.3 L498.3 413.8 L498.7 410.3 L499.0 407.0 L499.4 403.9 L499.7 400.9 L500.0 398.0 L500.4 395.2 L500.7 392.5 L501.0 390.0 L501.4 387.5 L501.7 385.2 L502.1 382.9 L502.4 380.7 L502.7 378.6 L503.1 376.7 L503.4 374.7 L503.8 372.9 L504.1 371.2 L504.4 369.5 L504.8 367.8 L505.1 366.3 L505.4 364.8 L505.8 363.4 L506.1 362.0 L506.5 360.7 L506.8 359.4 L507.1 358.2 L507.5 357.1 L507.8 356.0 L508.1 354.9 L508.5 353.9 L508.8 352.9 L509.2 351.9 L509.5 351.0 L509.8 350.2 L510.2 349.3 L510.5 348.5 L510.9 347.8 L511.2 347.0 L511.5 346.3 L511.9 345.7 L512.2 345.0 L512.5 344.4 L512.9 343.8 L513.2 343.2 L513.6 342.7 L513.9 342.2 L514.2 341.7 L514.6 341.2 L514.9 340.7 L515.3 340.3 L515.6 339.8 L515.9 339.4 L516.3 339.0 L516.6 338.7 L516.9 338.3 L517.3 338.0 L517.6 337.6 L518.0 337.3 L518.3 337.0 L518.3 515.5 L498 515.5Z" fill="#ee3a3a" fill-opacity="0.125"/>
<path d="M498.0 370.9 L498.2 369.4 L498.3 368.0 L498.5 366.6 L498.7 365.2 L498.8 364.0 L499.0 362.7 L499.2 361.6 L499.3 360.4 L499.5 359.4 L499.7 358.3 L499.8 357.3 L500.0 356.4 L500.2 355.5 L500.3 354.6 L500.5 353.7 L500.7 352.9 L500.8 352.2 L501.0 351.4 L501.2 350.7 L501.3 350.0 L501.5 349.4 L501.7 348.7 L501.8 348.1 L502.0 347.6 L502.2 347.0 L502.3 346.5 L502.5 346.0 L502.7 345.5 L502.8 345.0 L503.0 344.6 L503.2 344.1 L503.3 343.7 L503.5 343.3 L503.7 342.9 L503.8 342.6 L504.0 342.2 L504.2 341.9 L504.3 341.6 L504.5 341.2 L504.7 340.9 L504.8 340.7 L505.0 340.4 L505.2 340.1 L505.3 339.9 L505.5 339.6 L505.7 339.4 L505.8 339.2 L506.0 339.0 L506.2 338.8 L506.3 338.6 L506.5 338.4 L506.7 338.2 L506.8 338.0 L507.0 337.9 L507.2 337.7 L507.3 337.6 L507.5 337.4 L507.7 337.3 L507.8 337.1 L508.0 337.0 L508.0 515.5 L498 515.5Z" fill="#ee3a3a" fill-opacity="0.125"/>
<path d="M498.0 476.4 L498.7 474.0 L499.5 471.5 L500.2 469.1 L500.9 466.6 L501.6 464.2 L502.3 461.7 L503.0 459.3 L503.7 456.8 L504.4 454.4 L505.2 452.0 L505.9 449.5 L506.6 447.1 L507.4 444.6 L508.1 442.2 L508.9 439.8 L509.7 437.4 L510.5 435.0 L511.3 432.6 L512.2 430.2 L513.1 427.8 L513.9 425.4 L514.8 423.0 L515.7 420.6 L516.5 418.2 L517.4 415.8 L518.2 413.4 L519.1 411.0 L519.9 408.6 L520.8 406.2 L521.7 403.8 L522.7 401.5 L523.6 399.1 L524.7 396.8 L525.8 394.5 L526.9 392.3 L528.2 390.0 L529.5 387.8 L530.8 385.7 L532.2 383.5 L533.7 381.5 L535.3 379.4 L536.9 377.4 L538.5 375.5 L540.3 373.6 L542.0 371.7 L543.9 369.9 L545.7 368.2 L547.7 366.5 L549.6 364.9 L551.7 363.4 L553.8 361.9 L555.9 360.5 L558.1 359.2 L560.3 358.0 L562.5 356.9 L564.9 355.9 L567.2 355.0 L569.6 354.2 L572.1 353.5 L574.5 352.9 L577.0 352.3 L579.6 351.8 L582.1 351.3 L584.6 350.9 L587.1 350.4 L589.6 350.0 L592.1 349.5 L594.7 349.1 L597.2 348.6 L599.7 348.2 L602.2 347.8 L604.7 347.3 L607.2 346.9 L609.7 346.5 L612.2 346.1 L614.7 345.7 L617.2 345.3 L619.7 344.9 L622.2 344.5 L624.8 344.1 L627.3 343.7 L629.8 343.3 L632.3 342.9 L634.8 342.5 L637.3 342.2 L639.9 341.8 L642.4 341.4 L644.9 341.0 L647.4 340.6 L650.0 340.3 L652.5 339.9 L655.0 339.5 L657.5 339.1 L660.0 338.7 L662.5 338.4 L665.1 338.0 L667.6 337.6 L670.1 337.2 L672.6 336.8 L672.6 515.5 L498 515.5Z" fill="#ee3a3a" fill-opacity="0.21"/>
<path d="M584.3 336.8 L584.3 339.4 L584.3 342.0 L584.3 344.6 L584.3 347.2 L584.4 349.7 L584.4 352.3 L584.4 354.9 L584.4 357.5 L584.5 360.1 L584.5 362.7 L584.5 365.3 L584.6 367.9 L584.6 370.5 L584.7 373.0 L584.7 375.6 L584.8 378.2 L584.8 380.8 L584.9 383.4 L584.9 386.0 L585.0 388.6 L585.1 391.2 L585.1 393.8 L585.2 396.4 L585.3 399.0 L585.4 401.5 L585.6 404.1 L585.7 406.7 L585.8 409.3 L586.0 411.8 L586.3 414.4 L586.7 416.9 L587.2 419.5 L587.8 422.0 L588.4 424.6 L589.0 427.1 L589.7 429.6 L590.3 432.1 L590.9 434.6 L591.6 437.1 L592.3 439.6 L593.0 442.1 L593.8 444.6 L594.5 447.1 L595.4 449.5 L596.2 452.0 L597.0 454.4 L597.9 456.9 L598.8 459.3 L599.7 461.7 L600.7 464.1 L601.7 466.5 L602.7 468.9 L603.8 471.3 L604.9 473.6 L606.1 475.9 L607.3 478.2 L608.5 480.5 L609.8 482.7 L611.2 484.8 L612.7 487.0 L614.3 489.1 L615.8 491.2 L617.5 493.2 L619.1 495.2 L620.8 497.1 L622.6 499.1 L624.4 501.0 L626.2 502.8 L628.2 504.5 L630.2 506.0 L632.3 507.5 L634.6 508.8 L636.9 510.0 L639.2 511.2 L641.6 512.2 L644.0 513.1 L646.4 514.0 L648.9 514.8 L651.4 515.5 L584.3 515.5Z" fill="#5a9cf0" fill-opacity="0.39"/>
<path d="M533.2 336.8 L533.2 339.2 L533.2 341.5 L533.2 343.9 L533.2 346.3 L533.2 348.6 L533.2 351.0 L533.2 353.4 L533.2 355.7 L533.3 358.1 L533.3 360.5 L533.3 362.8 L533.3 365.2 L533.3 367.6 L533.3 369.9 L533.3 372.3 L533.4 374.6 L533.4 377.0 L533.4 379.4 L533.4 381.7 L533.4 384.1 L533.5 386.5 L533.5 388.8 L533.5 391.2 L533.6 393.6 L533.6 395.9 L533.7 398.3 L533.7 400.7 L533.8 403.0 L533.8 405.4 L533.9 407.8 L534.0 410.1 L534.0 412.5 L534.1 414.9 L534.2 417.2 L534.3 419.6 L534.3 421.9 L534.4 424.3 L534.5 426.7 L534.7 429.0 L534.8 431.4 L534.9 433.8 L535.1 436.1 L535.2 438.5 L535.4 440.8 L535.6 443.2 L535.8 445.6 L536.0 447.9 L536.2 450.3 L536.4 452.6 L536.6 455.0 L536.8 457.3 L537.1 459.7 L537.4 462.1 L537.6 464.4 L537.9 466.8 L538.3 469.1 L538.6 471.5 L539.0 473.8 L539.3 476.1 L539.7 478.5 L540.2 480.8 L540.6 483.1 L541.1 485.4 L541.6 487.8 L542.2 490.1 L542.8 492.4 L543.4 494.7 L544.2 497.0 L545.0 499.2 L545.8 501.4 L546.8 503.5 L547.9 505.5 L549.3 507.6 L550.8 509.4 L552.5 511.1 L554.3 512.4 L556.3 513.6 L558.5 514.7 L560.8 515.5 L533.2 515.5Z" fill="#5a9cf0" fill-opacity="0.39"/>
<path d="M518.3 336.8 L518.3 339.1 L518.3 341.4 L518.3 343.8 L518.3 346.1 L518.3 348.4 L518.3 350.7 L518.3 353.1 L518.3 355.4 L518.3 357.7 L518.3 360.0 L518.3 362.4 L518.3 364.7 L518.4 367.0 L518.4 369.3 L518.4 371.6 L518.4 374.0 L518.4 376.3 L518.4 378.6 L518.4 380.9 L518.4 383.3 L518.4 385.6 L518.4 387.9 L518.5 390.2 L518.5 392.6 L518.5 394.9 L518.5 397.2 L518.5 399.5 L518.5 401.8 L518.5 404.2 L518.5 406.5 L518.6 408.8 L518.6 411.1 L518.6 413.5 L518.6 415.8 L518.6 418.1 L518.6 420.4 L518.7 422.8 L518.7 425.1 L518.7 427.4 L518.7 429.7 L518.8 432.0 L518.8 434.4 L518.8 436.7 L518.9 439.0 L518.9 441.3 L518.9 443.7 L519.0 446.0 L519.0 448.3 L519.0 450.6 L519.1 452.9 L519.1 455.3 L519.2 457.6 L519.2 459.9 L519.2 462.2 L519.3 464.6 L519.3 466.9 L519.4 469.2 L519.4 471.6 L519.5 473.9 L519.6 476.2 L519.7 478.5 L519.7 480.9 L519.8 483.2 L520.0 485.5 L520.1 487.8 L520.3 490.1 L520.5 492.4 L520.8 494.8 L521.2 497.2 L521.7 499.5 L522.2 501.8 L522.8 504.0 L523.5 506.2 L524.2 508.2 L525.5 510.3 L527.0 512.1 L528.7 513.5 L530.7 514.7 L533.0 515.5 L518.3 515.5Z" fill="#5a9cf0" fill-opacity="0.39"/>
<path d="M508.0 336.8 L508.0 339.1 L508.0 341.4 L508.0 343.7 L508.0 346.0 L508.0 348.2 L508.0 350.5 L508.0 352.8 L508.0 355.1 L508.0 357.4 L508.0 359.7 L508.0 362.0 L508.0 364.3 L508.0 366.6 L508.0 368.8 L508.0 371.1 L508.0 373.4 L508.0 375.7 L508.0 378.0 L508.1 380.3 L508.1 382.6 L508.1 384.9 L508.1 387.1 L508.1 389.4 L508.1 391.7 L508.1 394.0 L508.1 396.3 L508.1 398.6 L508.1 400.9 L508.1 403.2 L508.1 405.5 L508.1 407.7 L508.1 410.0 L508.1 412.3 L508.1 414.6 L508.2 416.9 L508.2 419.2 L508.2 421.5 L508.2 423.8 L508.2 426.1 L508.2 428.3 L508.2 430.6 L508.2 432.9 L508.3 435.2 L508.3 437.5 L508.3 439.8 L508.3 442.1 L508.3 444.4 L508.3 446.6 L508.4 448.9 L508.4 451.2 L508.4 453.5 L508.4 455.8 L508.5 458.1 L508.5 460.4 L508.5 462.7 L508.5 465.0 L508.6 467.2 L508.6 469.5 L508.7 471.8 L508.7 474.1 L508.8 476.4 L508.9 478.7 L509.0 481.0 L509.1 483.3 L509.1 485.5 L509.2 487.8 L509.4 490.1 L509.5 492.4 L509.6 494.7 L509.8 497.0 L510.0 499.3 L510.3 501.5 L510.6 503.8 L511.0 506.1 L511.7 508.4 L512.5 510.5 L513.5 512.3 L515.1 514.0 L517.0 515.5 L508.0 515.5Z" fill="#5a9cf0" fill-opacity="0.39"/>
<path d="M672.6 336.8 L672.7 338.7 L672.8 340.6 L672.9 342.5 L673.0 344.4 L673.1 346.3 L673.2 348.2 L673.3 350.1 L673.4 352.0 L673.6 353.9 L673.7 355.8 L673.8 357.6 L673.9 359.5 L674.1 361.4 L674.2 363.3 L674.3 365.2 L674.5 367.1 L674.6 369.0 L674.8 370.9 L674.9 372.8 L675.1 374.7 L675.2 376.6 L675.4 378.5 L675.6 380.4 L675.7 382.3 L675.9 384.1 L676.1 386.0 L676.3 387.9 L676.5 389.8 L676.7 391.7 L677.0 393.6 L677.2 395.5 L677.5 397.3 L677.8 399.2 L678.1 401.1 L678.4 403.0 L678.7 404.8 L679.1 406.7 L679.4 408.6 L679.8 410.4 L680.3 412.3 L680.7 414.1 L681.2 416.0 L681.6 417.8 L682.2 419.6 L682.7 421.4 L683.3 423.2 L683.9 425.1 L684.5 426.9 L685.1 428.7 L685.8 430.4 L686.4 432.2 L687.1 434.0 L687.8 435.8 L688.5 437.5 L689.2 439.3 L689.9 441.0 L690.6 442.8 L691.4 444.5 L692.2 446.3 L693.0 448.0 L693.8 449.7 L694.7 451.4 L695.5 453.1 L696.4 454.8 L697.2 456.5 L698.1 458.2 L699.1 459.8 L700.0 461.5 L700.9 463.1 L701.9 464.8 L702.9 466.4 L703.9 468.0 L705.0 469.6 L706.0 471.2 L707.1 472.7 L708.2 474.3 L709.3 475.8 L710.4 477.3 L711.6 478.8 L712.8 480.3 L714.0 481.8 L715.3 483.3 L716.5 484.7 L717.8 486.1 L719.1 487.4 L720.4 488.7 L721.8 490.1 L723.2 491.4 L724.6 492.6 L726.1 493.9 L727.5 495.1 L729.0 496.3 L730.6 497.4 L732.1 498.6 L733.6 499.6 L735.2 500.7 L736.8 501.7 L738.4 502.7 L740.1 503.7 L741.7 504.6 L743.4 505.5 L745.1 506.4 L746.8 507.2 L748.6 507.9 L750.3 508.6 L752.1 509.2 L753.9 509.8 L755.7 510.4 L757.5 511.0 L759.4 511.5 L761.2 512.0 L763.0 512.5 L764.9 513.0 L766.7 513.5 L768.6 513.9 L770.4 514.4 L772.3 514.8 L774.1 515.1 L776.0 515.5 L672.6 515.5Z" fill="#1f6fe0" fill-opacity="0.41"/>
<path d="M498.0 456.6 L499.4 450.8 L500.9 445.3 L502.3 440.1 L503.8 435.0 L505.2 430.2 L506.6 425.7 L508.1 421.3 L509.5 417.1 L510.9 413.1 L512.4 409.3 L513.8 405.7 L515.3 402.2 L516.7 398.9 L518.1 395.8 L519.6 392.8 L521.0 389.9 L522.5 387.1 L523.9 384.5 L525.3 382.0 L526.8 379.6 L528.2 377.3 L529.6 375.1 L531.1 373.0 L532.5 371.1 L534.0 369.2 L535.4 367.3 L536.8 365.6 L538.3 364.0 L539.7 362.4 L541.1 360.9 L542.6 359.4 L544.0 358.1 L545.5 356.7 L546.9 355.5 L548.3 354.3 L549.8 353.2 L551.2 352.1 L552.7 351.0 L554.1 350.0 L555.5 349.1 L557.0 348.2 L558.4 347.3 L559.8 346.5 L561.3 345.7 L562.7 344.9 L564.2 344.2 L565.6 343.5 L567.0 342.9 L568.5 342.3 L569.9 341.7 L571.4 341.1 L572.8 340.6 L574.2 340.0 L575.7 339.5 L577.1 339.1 L578.5 338.6 L580.0 338.2 L581.4 337.8 L582.9 337.4 L584.3 337.0" fill="none" stroke="#f26a6a" stroke-opacity="0.55" stroke-width="2.0"/>
<path d="M498.0 435.2 L498.6 430.8 L499.2 426.6 L499.8 422.6 L500.3 418.8 L500.9 415.1 L501.5 411.5 L502.1 408.1 L502.7 404.9 L503.3 401.7 L503.9 398.7 L504.5 395.9 L505.0 393.1 L505.6 390.4 L506.2 387.9 L506.8 385.5 L507.4 383.1 L508.0 380.9 L508.6 378.7 L509.1 376.7 L509.7 374.7 L510.3 372.8 L510.9 371.0 L511.5 369.2 L512.1 367.6 L512.7 366.0 L513.3 364.4 L513.8 362.9 L514.4 361.5 L515.0 360.2 L515.6 358.9 L516.2 357.6 L516.8 356.4 L517.4 355.3 L517.9 354.2 L518.5 353.1 L519.1 352.1 L519.7 351.1 L520.3 350.2 L520.9 349.3 L521.5 348.4 L522.1 347.6 L522.6 346.8 L523.2 346.0 L523.8 345.3 L524.4 344.6 L525.0 344.0 L525.6 343.3 L526.2 342.7 L526.7 342.1 L527.3 341.5 L527.9 341.0 L528.5 340.5 L529.1 340.0 L529.7 339.5 L530.3 339.0 L530.9 338.6 L531.4 338.2 L532.0 337.8 L532.6 337.4 L533.2 337.0" fill="none" stroke="#f26a6a" stroke-opacity="0.55" stroke-width="2.0"/>
<path d="M498.0 417.3 L498.3 413.8 L498.7 410.3 L499.0 407.0 L499.4 403.9 L499.7 400.9 L500.0 398.0 L500.4 395.2 L500.7 392.5 L501.0 390.0 L501.4 387.5 L501.7 385.2 L502.1 382.9 L502.4 380.7 L502.7 378.6 L503.1 376.7 L503.4 374.7 L503.8 372.9 L504.1 371.2 L504.4 369.5 L504.8 367.8 L505.1 366.3 L505.4 364.8 L505.8 363.4 L506.1 362.0 L506.5 360.7 L506.8 359.4 L507.1 358.2 L507.5 357.1 L507.8 356.0 L508.1 354.9 L508.5 353.9 L508.8 352.9 L509.2 351.9 L509.5 351.0 L509.8 350.2 L510.2 349.3 L510.5 348.5 L510.9 347.8 L511.2 347.0 L511.5 346.3 L511.9 345.7 L512.2 345.0 L512.5 344.4 L512.9 343.8 L513.2 343.2 L513.6 342.7 L513.9 342.2 L514.2 341.7 L514.6 341.2 L514.9 340.7 L515.3 340.3 L515.6 339.8 L515.9 339.4 L516.3 339.0 L516.6 338.7 L516.9 338.3 L517.3 338.0 L517.6 337.6 L518.0 337.3 L518.3 337.0" fill="none" stroke="#f26a6a" stroke-opacity="0.55" stroke-width="2.0"/>
<path d="M498.0 370.9 L498.2 369.4 L498.3 368.0 L498.5 366.6 L498.7 365.2 L498.8 364.0 L499.0 362.7 L499.2 361.6 L499.3 360.4 L499.5 359.4 L499.7 358.3 L499.8 357.3 L500.0 356.4 L500.2 355.5 L500.3 354.6 L500.5 353.7 L500.7 352.9 L500.8 352.2 L501.0 351.4 L501.2 350.7 L501.3 350.0 L501.5 349.4 L501.7 348.7 L501.8 348.1 L502.0 347.6 L502.2 347.0 L502.3 346.5 L502.5 346.0 L502.7 345.5 L502.8 345.0 L503.0 344.6 L503.2 344.1 L503.3 343.7 L503.5 343.3 L503.7 342.9 L503.8 342.6 L504.0 342.2 L504.2 341.9 L504.3 341.6 L504.5 341.2 L504.7 340.9 L504.8 340.7 L505.0 340.4 L505.2 340.1 L505.3 339.9 L505.5 339.6 L505.7 339.4 L505.8 339.2 L506.0 339.0 L506.2 338.8 L506.3 338.6 L506.5 338.4 L506.7 338.2 L506.8 338.0 L507.0 337.9 L507.2 337.7 L507.3 337.6 L507.5 337.4 L507.7 337.3 L507.8 337.1 L508.0 337.0" fill="none" stroke="#f26a6a" stroke-opacity="0.55" stroke-width="2.0"/>
<path d="M584.3 336.8 L584.3 339.4 L584.3 342.0 L584.3 344.6 L584.3 347.2 L584.4 349.7 L584.4 352.3 L584.4 354.9 L584.4 357.5 L584.5 360.1 L584.5 362.7 L584.5 365.3 L584.6 367.9 L584.6 370.5 L584.7 373.0 L584.7 375.6 L584.8 378.2 L584.8 380.8 L584.9 383.4 L584.9 386.0 L585.0 388.6 L585.1 391.2 L585.1 393.8 L585.2 396.4 L585.3 399.0 L585.4 401.5 L585.6 404.1 L585.7 406.7 L585.8 409.3 L586.0 411.8 L586.3 414.4 L586.7 416.9 L587.2 419.5 L587.8 422.0 L588.4 424.6 L589.0 427.1 L589.7 429.6 L590.3 432.1 L590.9 434.6 L591.6 437.1 L592.3 439.6 L593.0 442.1 L593.8 444.6 L594.5 447.1 L595.4 449.5 L596.2 452.0 L597.0 454.4 L597.9 456.9 L598.8 459.3 L599.7 461.7 L600.7 464.1 L601.7 466.5 L602.7 468.9 L603.8 471.3 L604.9 473.6 L606.1 475.9 L607.3 478.2 L608.5 480.5 L609.8 482.7 L611.2 484.8 L612.7 487.0 L614.3 489.1 L615.8 491.2 L617.5 493.2 L619.1 495.2 L620.8 497.1 L622.6 499.1 L624.4 501.0 L626.2 502.8 L628.2 504.5 L630.2 506.0 L632.3 507.5 L634.6 508.8 L636.9 510.0 L639.2 511.2 L641.6 512.2 L644.0 513.1 L646.4 514.0 L648.9 514.8 L651.4 515.5" fill="none" stroke="#64a2f2" stroke-width="1.8"/>
<path d="M533.2 336.8 L533.2 339.2 L533.2 341.5 L533.2 343.9 L533.2 346.3 L533.2 348.6 L533.2 351.0 L533.2 353.4 L533.2 355.7 L533.3 358.1 L533.3 360.5 L533.3 362.8 L533.3 365.2 L533.3 367.6 L533.3 369.9 L533.3 372.3 L533.4 374.6 L533.4 377.0 L533.4 379.4 L533.4 381.7 L533.4 384.1 L533.5 386.5 L533.5 388.8 L533.5 391.2 L533.6 393.6 L533.6 395.9 L533.7 398.3 L533.7 400.7 L533.8 403.0 L533.8 405.4 L533.9 407.8 L534.0 410.1 L534.0 412.5 L534.1 414.9 L534.2 417.2 L534.3 419.6 L534.3 421.9 L534.4 424.3 L534.5 426.7 L534.7 429.0 L534.8 431.4 L534.9 433.8 L535.1 436.1 L535.2 438.5 L535.4 440.8 L535.6 443.2 L535.8 445.6 L536.0 447.9 L536.2 450.3 L536.4 452.6 L536.6 455.0 L536.8 457.3 L537.1 459.7 L537.4 462.1 L537.6 464.4 L537.9 466.8 L538.3 469.1 L538.6 471.5 L539.0 473.8 L539.3 476.1 L539.7 478.5 L540.2 480.8 L540.6 483.1 L541.1 485.4 L541.6 487.8 L542.2 490.1 L542.8 492.4 L543.4 494.7 L544.2 497.0 L545.0 499.2 L545.8 501.4 L546.8 503.5 L547.9 505.5 L549.3 507.6 L550.8 509.4 L552.5 511.1 L554.3 512.4 L556.3 513.6 L558.5 514.7 L560.8 515.5" fill="none" stroke="#64a2f2" stroke-width="1.8"/>
<path d="M518.3 336.8 L518.3 339.1 L518.3 341.4 L518.3 343.8 L518.3 346.1 L518.3 348.4 L518.3 350.7 L518.3 353.1 L518.3 355.4 L518.3 357.7 L518.3 360.0 L518.3 362.4 L518.3 364.7 L518.4 367.0 L518.4 369.3 L518.4 371.6 L518.4 374.0 L518.4 376.3 L518.4 378.6 L518.4 380.9 L518.4 383.3 L518.4 385.6 L518.4 387.9 L518.5 390.2 L518.5 392.6 L518.5 394.9 L518.5 397.2 L518.5 399.5 L518.5 401.8 L518.5 404.2 L518.5 406.5 L518.6 408.8 L518.6 411.1 L518.6 413.5 L518.6 415.8 L518.6 418.1 L518.6 420.4 L518.7 422.8 L518.7 425.1 L518.7 427.4 L518.7 429.7 L518.8 432.0 L518.8 434.4 L518.8 436.7 L518.9 439.0 L518.9 441.3 L518.9 443.7 L519.0 446.0 L519.0 448.3 L519.0 450.6 L519.1 452.9 L519.1 455.3 L519.2 457.6 L519.2 459.9 L519.2 462.2 L519.3 464.6 L519.3 466.9 L519.4 469.2 L519.4 471.6 L519.5 473.9 L519.6 476.2 L519.7 478.5 L519.7 480.9 L519.8 483.2 L520.0 485.5 L520.1 487.8 L520.3 490.1 L520.5 492.4 L520.8 494.8 L521.2 497.2 L521.7 499.5 L522.2 501.8 L522.8 504.0 L523.5 506.2 L524.2 508.2 L525.5 510.3 L527.0 512.1 L528.7 513.5 L530.7 514.7 L533.0 515.5" fill="none" stroke="#64a2f2" stroke-width="1.8"/>
<path d="M508.0 336.8 L508.0 339.1 L508.0 341.4 L508.0 343.7 L508.0 346.0 L508.0 348.2 L508.0 350.5 L508.0 352.8 L508.0 355.1 L508.0 357.4 L508.0 359.7 L508.0 362.0 L508.0 364.3 L508.0 366.6 L508.0 368.8 L508.0 371.1 L508.0 373.4 L508.0 375.7 L508.0 378.0 L508.1 380.3 L508.1 382.6 L508.1 384.9 L508.1 387.1 L508.1 389.4 L508.1 391.7 L508.1 394.0 L508.1 396.3 L508.1 398.6 L508.1 400.9 L508.1 403.2 L508.1 405.5 L508.1 407.7 L508.1 410.0 L508.1 412.3 L508.1 414.6 L508.2 416.9 L508.2 419.2 L508.2 421.5 L508.2 423.8 L508.2 426.1 L508.2 428.3 L508.2 430.6 L508.2 432.9 L508.3 435.2 L508.3 437.5 L508.3 439.8 L508.3 442.1 L508.3 444.4 L508.3 446.6 L508.4 448.9 L508.4 451.2 L508.4 453.5 L508.4 455.8 L508.5 458.1 L508.5 460.4 L508.5 462.7 L508.5 465.0 L508.6 467.2 L508.6 469.5 L508.7 471.8 L508.7 474.1 L508.8 476.4 L508.9 478.7 L509.0 481.0 L509.1 483.3 L509.1 485.5 L509.2 487.8 L509.4 490.1 L509.5 492.4 L509.6 494.7 L509.8 497.0 L510.0 499.3 L510.3 501.5 L510.6 503.8 L511.0 506.1 L511.7 508.4 L512.5 510.5 L513.5 512.3 L515.1 514.0 L517.0 515.5" fill="none" stroke="#64a2f2" stroke-width="1.8"/>
<path d="M508 336.8V515.5" stroke="#8a8a8a" stroke-width="0.7" stroke-dasharray="3.5 2.5" fill="none"/>
<path d="M518.3 336.8V515.5" stroke="#8a8a8a" stroke-width="0.7" stroke-dasharray="3.5 2.5" fill="none"/>
<path d="M533.2 336.8V515.5" stroke="#8a8a8a" stroke-width="0.7" stroke-dasharray="3.5 2.5" fill="none"/>
<path d="M584.3 336.8V515.5" stroke="#8a8a8a" stroke-width="0.7" stroke-dasharray="3.5 2.5" fill="none"/>
<path d="M672.6 336.8V515.5" stroke="#8a8a8a" stroke-width="0.7" stroke-dasharray="3.5 2.5" fill="none"/>
<path d="M672.2 398L706.5 481" stroke="#a0a0a0" stroke-width="0.7" stroke-dasharray="3 2.5" fill="none"/>
<path d="M498 336.8H672.6" stroke="#8c8c8c" stroke-width="0.8" stroke-dasharray="3.5 2.5" fill="none"/>
<path d="M498.0 476.4 L498.7 474.0 L499.5 471.5 L500.2 469.1 L500.9 466.6 L501.6 464.2 L502.3 461.7 L503.0 459.3 L503.7 456.8 L504.4 454.4 L505.2 452.0 L505.9 449.5 L506.6 447.1 L507.4 444.6 L508.1 442.2 L508.9 439.8 L509.7 437.4 L510.5 435.0 L511.3 432.6 L512.2 430.2 L513.1 427.8 L513.9 425.4 L514.8 423.0 L515.7 420.6 L516.5 418.2 L517.4 415.8 L518.2 413.4 L519.1 411.0 L519.9 408.6 L520.8 406.2 L521.7 403.8" fill="none" stroke="#ee3a3a" stroke-opacity="0.72" stroke-width="2.2" stroke-linejoin="round"/>
<path d="M521.7 403.8 L522.7 401.5 L523.6 399.1 L524.7 396.8 L525.8 394.5 L526.9 392.3 L528.2 390.0 L529.5 387.8 L530.8 385.7 L532.2 383.5 L533.7 381.5 L535.3 379.4 L536.9 377.4 L538.5 375.5 L540.3 373.6 L542.0 371.7 L543.9 369.9 L545.7 368.2 L547.7 366.5 L549.6 364.9 L551.7 363.4 L553.8 361.9 L555.9 360.5 L558.1 359.2 L560.3 358.0 L562.5 356.9 L564.9 355.9 L567.2 355.0 L569.6 354.2 L572.1 353.5 L574.5 352.9 L577.0 352.3 L579.6 351.8 L582.1 351.3 L584.6 350.9 L587.1 350.4 L589.6 350.0 L592.1 349.5 L594.7 349.1 L597.2 348.6 L599.7 348.2 L602.2 347.8 L604.7 347.3 L607.2 346.9 L609.7 346.5 L612.2 346.1 L614.7 345.7 L617.2 345.3 L619.7 344.9 L622.2 344.5 L624.8 344.1 L627.3 343.7 L629.8 343.3 L632.3 342.9 L634.8 342.5 L637.3 342.2 L639.9 341.8 L642.4 341.4 L644.9 341.0 L647.4 340.6 L650.0 340.3 L652.5 339.9 L655.0 339.5 L657.5 339.1 L660.0 338.7 L662.5 338.4 L665.1 338.0 L667.6 337.6 L670.1 337.2 L672.6 336.8" fill="none" stroke="#ee3a3a" stroke-width="2.2" stroke-linejoin="round"/>
<path d="M672.6 336.8 L672.7 338.7 L672.8 340.6 L672.9 342.5 L673.0 344.4 L673.1 346.3 L673.2 348.2 L673.3 350.1 L673.4 352.0 L673.6 353.9 L673.7 355.8 L673.8 357.6 L673.9 359.5 L674.1 361.4 L674.2 363.3 L674.3 365.2 L674.5 367.1 L674.6 369.0 L674.8 370.9 L674.9 372.8 L675.1 374.7 L675.2 376.6 L675.4 378.5 L675.6 380.4 L675.7 382.3 L675.9 384.1 L676.1 386.0 L676.3 387.9 L676.5 389.8 L676.7 391.7 L677.0 393.6 L677.2 395.5 L677.5 397.3 L677.8 399.2 L678.1 401.1 L678.4 403.0 L678.7 404.8 L679.1 406.7 L679.4 408.6 L679.8 410.4 L680.3 412.3 L680.7 414.1 L681.2 416.0 L681.6 417.8 L682.2 419.6 L682.7 421.4 L683.3 423.2 L683.9 425.1 L684.5 426.9 L685.1 428.7 L685.8 430.4 L686.4 432.2 L687.1 434.0 L687.8 435.8 L688.5 437.5 L689.2 439.3 L689.9 441.0 L690.6 442.8 L691.4 444.5 L692.2 446.3 L693.0 448.0 L693.8 449.7 L694.7 451.4 L695.5 453.1 L696.4 454.8 L697.2 456.5 L698.1 458.2 L699.1 459.8 L700.0 461.5 L700.9 463.1 L701.9 464.8 L702.9 466.4 L703.9 468.0 L705.0 469.6 L706.0 471.2 L707.1 472.7 L708.2 474.3 L709.3 475.8 L710.4 477.3 L711.6 478.8 L712.8 480.3 L714.0 481.8 L715.3 483.3 L716.5 484.7 L717.8 486.1 L719.1 487.4 L720.4 488.7 L721.8 490.1 L723.2 491.4 L724.6 492.6 L726.1 493.9 L727.5 495.1 L729.0 496.3 L730.6 497.4 L732.1 498.6 L733.6 499.6 L735.2 500.7 L736.8 501.7 L738.4 502.7 L740.1 503.7 L741.7 504.6 L743.4 505.5 L745.1 506.4 L746.8 507.2 L748.6 507.9 L750.3 508.6 L752.1 509.2 L753.9 509.8 L755.7 510.4 L757.5 511.0 L759.4 511.5 L761.2 512.0 L763.0 512.5 L764.9 513.0 L766.7 513.5 L768.6 513.9 L770.4 514.4 L772.3 514.8 L774.1 515.1 L776.0 515.5" fill="none" stroke="#1f6fe0" stroke-width="2.4" stroke-linejoin="round"/>
</g>
<path d="M503 480.2H631.8V475.4L646.3 484.8L631.8 494.2V489.5H503Z" fill="#fdd85c" fill-opacity="0.93" stroke="#4a4020" stroke-width="0.9" stroke-linejoin="miter"/>
<text x="518.5" y="469.2" font-size="15" text-anchor="start" font-weight="normal" fill="#111" font-family="Liberation Sans, sans-serif" textLength="122" lengthAdjust="spacingAndGlyphs">Grain size decreases</text>
<text x="507" y="329.5" font-size="13" text-anchor="start" font-weight="normal" fill="#9a9a9a" font-family="Liberation Sans, sans-serif" >U<tspan font-size="8.5" dy="3">max</tspan></text>
<text x="609.5" y="325" font-size="13" text-anchor="start" font-weight="normal" fill="#111" font-family="Liberation Sans, sans-serif" >Charge</text>
<path d="M641.5 328.5L645.3 340.3" stroke="#222" stroke-width="0.9"/>
<text x="692" y="392" font-size="13" text-anchor="start" font-weight="normal" fill="#111" font-family="Liberation Sans, sans-serif" >Discharge</text>
<path d="M688.6 396.1L678.2 403.3" stroke="#222" stroke-width="0.9"/>
<rect x="498" y="303.3" width="290.5" height="212.2" fill="none" stroke="#262626" stroke-width="1"/>
<path d="M581.00 515.5v-5M581.00 303.3v5M664.00 515.5v-5M664.00 303.3v5M747.00 515.5v-5M747.00 303.3v5" stroke="#262626" stroke-width="1" fill="none"/>
<path d="M539.50 515.5v-4M539.50 303.3v4M622.50 515.5v-4M622.50 303.3v4M705.50 515.5v-4M705.50 303.3v4" stroke="#262626" stroke-width="1" fill="none"/>
<path d="M498 426.25h5M788.5 426.25h-5M498 337.00h5M788.5 337.00h-5" stroke="#262626" stroke-width="1" fill="none"/>
<path d="M498 470.88h4M788.5 470.88h-4M498 381.62h4M788.5 381.62h-4" stroke="#262626" stroke-width="1" fill="none"/>
<text x="491" y="520" font-size="15" text-anchor="end" font-weight="normal" fill="#111" font-family="Liberation Sans, sans-serif" >0.0</text>
<text x="491" y="431" font-size="15" text-anchor="end" font-weight="normal" fill="#111" font-family="Liberation Sans, sans-serif" >0.5</text>
<text x="491" y="342" font-size="15" text-anchor="end" font-weight="normal" fill="#111" font-family="Liberation Sans, sans-serif" >1.0</text>
<text x="497.5" y="538.5" font-size="15" text-anchor="middle" font-weight="normal" fill="#111" font-family="Liberation Sans, sans-serif" >0.0</text>
<text x="580.5" y="538.5" font-size="15" text-anchor="middle" font-weight="normal" fill="#111" font-family="Liberation Sans, sans-serif" >0.2</text>
<text x="663.5" y="538.5" font-size="15" text-anchor="middle" font-weight="normal" fill="#111" font-family="Liberation Sans, sans-serif" >0.4</text>
<text x="746.5" y="538.5" font-size="15" text-anchor="middle" font-weight="normal" fill="#111" font-family="Liberation Sans, sans-serif" >0.6</text>
<text x="639.4" y="556.3" font-size="15" text-anchor="middle" font-weight="normal" fill="#111" font-family="Liberation Sans, sans-serif" >Time, t (h)</text>
<text transform="translate(436.2,302.2) scale(0.92,1)" font-size="21.7" font-weight="bold" fill="#000" font-family="Liberation Sans, sans-serif">E</text>
<text transform="translate(458,410) rotate(-90)" font-size="15" text-anchor="middle" fill="#111" font-family="Liberation Sans, sans-serif">Voltage, U (V)</text>
</svg></body></html>
